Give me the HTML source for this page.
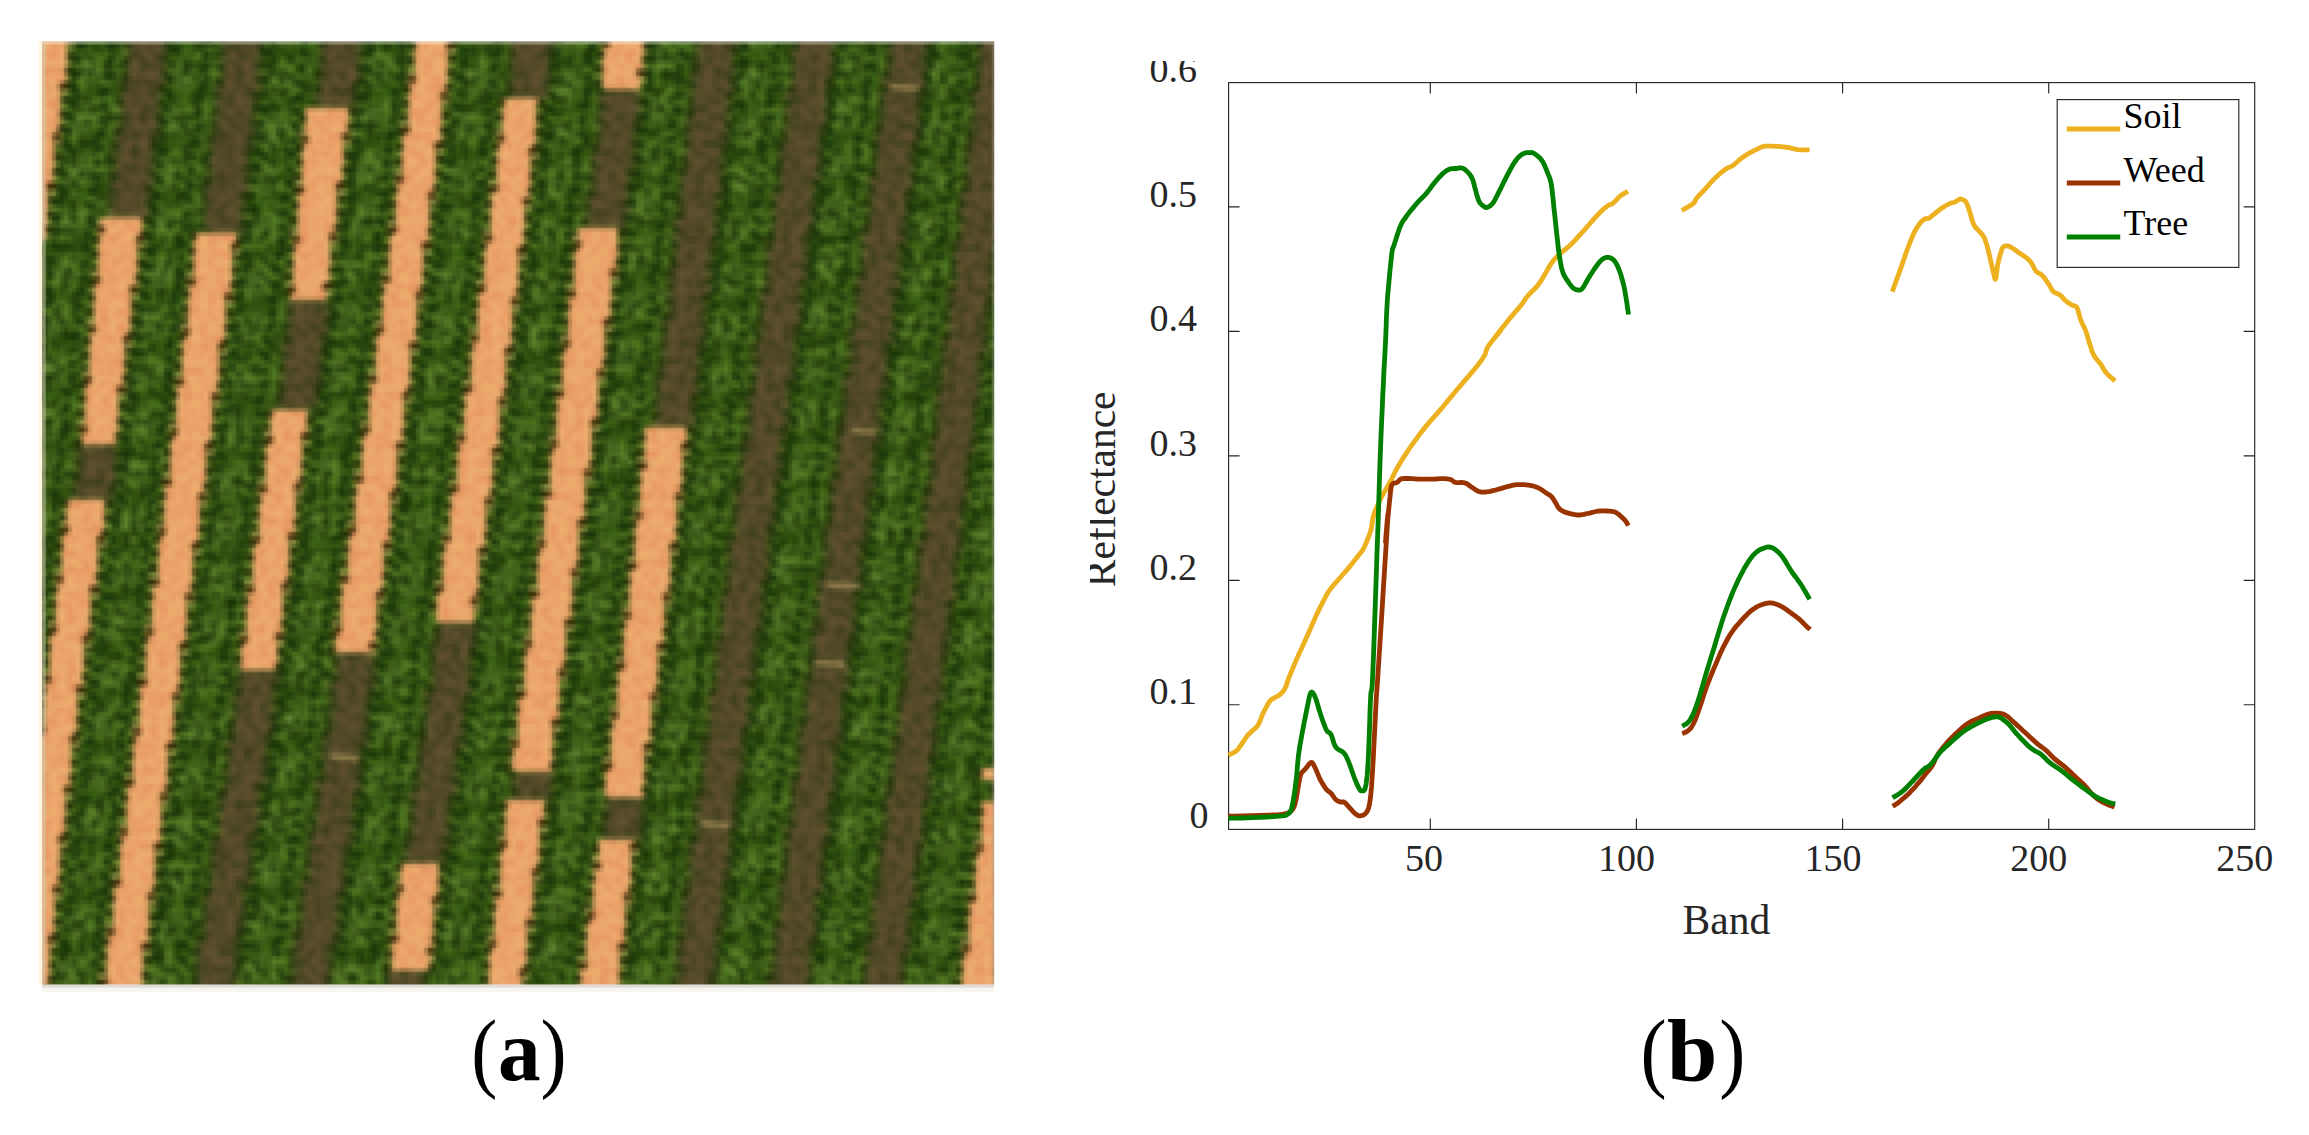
<!DOCTYPE html>
<html lang="en">
<head>
<meta charset="utf-8">
<title>Figure: field scene and reflectance spectra</title>
<style>
html,body{margin:0;padding:0;background:#fff;}
body{width:2309px;height:1135px;overflow:hidden;font-family:"Liberation Serif",serif;}
svg{display:block;}
</style>
</head>
<body>
<svg width="2309" height="1135" viewBox="0 0 2309 1135">
<rect width="2309" height="1135" fill="#fff"/>
<defs>
<clipPath id="fclip"><rect x="42.2" y="41.4" width="952.0" height="943.0"/></clipPath>
<filter id="fb0" filterUnits="userSpaceOnUse" x="20" y="20" width="1000" height="992" color-interpolation-filters="sRGB"><feFlood x="21" y="21" width="1" height="1" flood-color="#000"/><feComposite width="4" height="4" x="20" y="20"/><feTile result="t"/><feGaussianBlur in="SourceGraphic" stdDeviation="1.9" result="pb"/><feComposite in="pb" in2="t" operator="in" result="s"/><feOffset in="s" dx="1" result="s1"/><feOffset in="s" dx="2" result="s2"/><feOffset in="s" dx="-1" result="s3"/><feMerge result="h"><feMergeNode in="s"/><feMergeNode in="s1"/><feMergeNode in="s2"/><feMergeNode in="s3"/></feMerge><feOffset in="h" dy="1" result="h1"/><feOffset in="h" dy="2" result="h2"/><feOffset in="h" dy="-1" result="h3"/><feMerge><feMergeNode in="h"/><feMergeNode in="h1"/><feMergeNode in="h2"/><feMergeNode in="h3"/></feMerge><feConvolveMatrix order="3" kernelMatrix="1 3 1 3 8 3 1 3 1" divisor="24" edgeMode="duplicate"/></filter>
<filter id="fb2" x="-2%" y="-2%" width="104%" height="104%"><feGaussianBlur stdDeviation="3.6"/></filter>
<filter id="fb3" x="-2%" y="-2%" width="104%" height="104%"><feGaussianBlur stdDeviation="5"/></filter>
<filter id="fnd" color-interpolation-filters="sRGB" x="0" y="0" width="100%" height="100%"><feTurbulence type="fractalNoise" baseFrequency="0.115" numOctaves="1" seed="3"/><feColorMatrix type="matrix" values="0 0 0 0 0.10  0 0 0 0 0.19  0 0 0 0 0.02  2.3 0 0 0 -0.8"/></filter>
<filter id="fnl" color-interpolation-filters="sRGB" x="0" y="0" width="100%" height="100%"><feTurbulence type="fractalNoise" baseFrequency="0.14" numOctaves="1" seed="19"/><feColorMatrix type="matrix" values="0 0 0 0 0.46  0 0 0 0 0.57  0 0 0 0 0.24  0 3.0 0 0 -1.6"/></filter>
<filter id="fns" color-interpolation-filters="sRGB" x="0" y="0" width="100%" height="100%"><feTurbulence type="fractalNoise" baseFrequency="0.12" numOctaves="2" seed="5"/><feColorMatrix type="matrix" values="0 0 0 0 0.88  0 0 0 0 0.5  0 0 0 0 0.33  0 0 3.0 0 -1.15"/></filter>
<clipPath id="cs"><path d="M33.0 20.0L72.0 20.0H70.9V37.1H66.6V87.1H60.1V137.1H53.7V187.1H47.2V237.1H43.8V240.0L4.6 240.0H5.7V222.1H10.1V172.1H16.6V122.1H23.1V72.1H29.5V22.1H32.9V20.0ZM100.7 217.2L143.1 217.2H141.6V239.8H137.0V289.8H130.7V339.8H124.3V389.8H117.9V439.8H114.5V443.9L80.6 443.9H81.3V428.1H84.3V378.1H88.7V328.1H93.1V278.1H97.5V228.1H100.2V217.2ZM67.6 499.0L106.9 499.0H103.9V539.8H97.2V589.8H90.2V639.8H83.4V689.8H77.0V739.8H70.8V789.8H65.0V839.8H59.5V889.8H54.2V939.8H49.3V989.8H46.0V1010.0L8.4 1010.0H10.1V978.1H14.6V928.1H20.2V878.1H25.8V828.1H31.5V778.1H37.3V728.1H43.1V678.1H49.0V628.1H55.0V578.1H61.0V528.1H65.8V499.0ZM195.8 232.8L237.2 232.8H236.2V247.1H231.9V297.1H225.3V347.1H218.7V397.1H212.1V447.1H205.6V497.1H199.1V547.1H192.6V597.1H186.2V647.1H179.8V697.1H173.5V747.1H167.2V797.1H160.9V847.1H154.7V897.1H148.6V947.1H142.4V997.1H138.6V1010.0L98.7 1010.0H100.7V980.8H106.0V930.8H112.7V880.8H119.3V830.8H125.8V780.8H132.3V730.8H138.6V680.8H145.0V630.8H151.2V580.8H157.4V530.8H163.5V480.8H169.6V430.8H175.6V380.8H181.5V330.8H187.3V280.8H193.0V232.8ZM306.2 107.6L350.1 107.6H348.1V137.0H343.0V187.0H336.4V237.0H329.9V287.0H325.8V299.4L289.4 299.4H289.9V288.1H292.6V238.1H296.9V188.1H301.3V138.1H304.8V107.6ZM271.6 409.5L308.4 409.5H306.6V437.0H301.7V487.0H295.2V537.0H288.8V587.0H282.4V637.0H277.1V669.5L238.6 669.5H240.6V638.1H245.8V588.1H252.1V538.1H258.5V488.1H264.8V438.1H269.8V409.5ZM418.1 20.0L453.5 20.0H451.9V46.1H447.4V96.1H441.4V146.1H435.3V196.1H429.1V246.1H422.8V296.1H416.5V346.1H410.0V396.1H403.5V446.1H396.9V496.1H390.2V546.1H383.4V596.1H376.5V646.1H372.6V651.9L333.0 651.9H334.8V628.0H340.1V578.0H347.3V528.0H354.4V478.0H361.4V428.0H368.3V378.0H375.1V328.0H381.8V278.0H388.5V228.0H395.0V178.0H401.4V128.0H407.8V78.0H414.0V28.0H417.6V20.0ZM504.1 97.7L538.8 97.7H538.6V101.5H535.6V151.5H530.0V201.5H524.1V251.5H518.2V301.5H512.0V351.5H505.6V401.5H499.1V451.5H492.4V501.5H485.6V551.5H478.5V601.5H473.5V621.7L433.4 621.7H436.0V587.1H442.2V537.1H449.4V487.1H456.5V437.1H463.5V387.1H470.3V337.1H477.0V287.1H483.5V237.1H490.0V187.1H496.2V137.1H501.7V97.7ZM401.4 863.0L440.1 863.0H438.0V901.5H433.3V951.5H429.6V969.9L389.2 969.9H391.1V937.1H395.8V887.1H400.1V863.0ZM606.7 20.0L646.0 20.0H645.8V23.3H643.2V73.3H639.9V89.0L599.8 89.0H602.1V42.5H605.6V20.0ZM577.9 227.6L620.0 227.6H617.0V273.3H610.9V323.3H604.4V373.3H597.9V423.3H591.4V473.3H584.9V523.3H578.4V573.3H571.9V623.3H565.4V673.3H558.9V723.3H552.5V771.2L509.7 771.2H511.6V742.5H517.1V692.5H523.8V642.5H530.4V592.5H536.9V542.5H543.3V492.5H549.6V442.5H555.7V392.5H561.7V342.5H567.6V292.5H573.4V242.5H577.0V227.6ZM506.9 799.4L545.3 799.4H543.8V823.3H539.1V873.3H532.9V923.3H526.6V973.3H521.1V1010.0L483.6 1010.0H484.5V992.5H488.3V942.5H493.8V892.5H499.4V842.5H504.5V799.4ZM645.5 426.8L687.2 426.8H686.0V447.2H682.1V497.2H676.3V547.2H670.2V597.2H664.0V647.2H657.6V697.2H650.9V747.2H644.1V797.1L602.5 797.1H604.7V764.3H610.3V714.3H616.7V664.3H622.9V614.3H628.7V564.3H634.2V514.3H639.4V464.3H643.8V426.8ZM599.5 839.3L634.6 839.3H634.1V847.2H630.8V897.2H625.0V947.2H619.2V997.2H615.6V1010.0L575.8 1010.0H579.0V964.3H585.6V914.3H592.5V864.3H597.7V839.3ZM981.5 768.0L1020.5 768.0H1020.3V773.5H1019.8V779.0L980.5 779.0H981.0V768.0ZM983.9 801.6L1022.9 801.6H1021.4V823.5H1016.6V873.5H1010.0V923.5H1003.3V973.5H997.6V1010.0L956.6 1010.0H957.5V996.7H961.6V946.7H968.2V896.7H974.7V846.7H980.9V801.6Z"/></clipPath>
<path id="wd" d="M131.7 20.0L169.7 20.0H168.5V39.8H164.3V89.8H158.1V139.8H152.0V189.8H147.3V217.2L107.6 217.2H110.0V178.1H115.4V128.1H121.6V78.1H127.7V28.1H131.2V20.0ZM79.8 443.9L117.8 443.9H115.0V489.8H111.6V499.0L73.1 499.0H74.3V478.1H77.7V443.9ZM226.4 20.0L264.4 20.0H262.8V47.1H258.3V97.1H252.5V147.1H246.6V197.1H241.6V232.8L201.4 232.8H201.6V230.8H204.7V180.8H210.6V130.8H216.4V80.8H222.2V30.8H225.7V20.0ZM325.9 20.0L363.9 20.0H362.9V37.0H358.8V87.0H354.6V107.6L315.3 107.6H316.5V88.1H320.7V38.1H324.8V20.0ZM291.2 299.4L329.2 299.4H326.8V337.0H321.0V387.0H316.2V409.5L276.7 409.5H278.1V388.1H282.9V338.1H288.7V299.4ZM240.7 669.5L278.7 669.5H277.4V687.0H272.5V737.0H265.2V787.0H257.8V837.0H250.3V887.0H242.7V937.0H235.1V987.0H229.4V1010.0L189.6 1010.0H191.3V988.1H196.9V938.1H204.6V888.1H212.2V838.1H219.7V788.1H227.1V738.1H234.4V688.1H239.3V669.5ZM338.2 651.9L376.2 651.9H373.0V696.1H366.3V746.1H359.1V796.1H351.8V846.1H344.4V896.1H337.0V946.1H329.5V996.1H324.7V1010.0L285.6 1010.0H288.0V978.0H294.2V928.0H301.7V878.0H309.1V828.0H316.4V778.0H323.7V728.0H330.9V678.0H336.3V651.9ZM516.3 20.0L554.3 20.0H552.4V51.5H547.7V97.7L506.9 97.7H507.6V87.1H511.3V37.1H515.3V20.0ZM438.6 621.7L476.6 621.7H474.5V651.5H468.9V701.5H461.8V751.5H454.7V801.5H447.5V851.5H443.0V863.0L404.1 863.0H406.0V837.1H411.5V787.1H418.8V737.1H425.9V687.1H432.9V637.1H437.5V621.7ZM388.3 969.9L426.3 969.9H423.9V1001.5H420.9V1010.0L382.2 1010.0H384.0V987.1H387.0V969.9ZM603.3 89.0L641.3 89.0H639.1V123.3H633.5V173.3H626.9V223.3H623.3V227.6L585.0 227.6H587.3V192.5H592.9V142.5H599.6V92.5H603.1V89.0ZM514.9 771.2L552.9 771.2H552.7V773.3H550.9V799.4L511.3 799.4H511.7V792.5H513.5V771.2ZM700.1 20.0L738.1 20.0H736.6V47.2H732.3V97.2H726.6V147.2H720.9V197.2H715.2V247.2H709.4V297.2H703.5V347.2H697.6V397.2H692.8V426.8L653.0 426.8H653.8V414.3H657.5V364.3H663.5V314.3H669.4V264.3H675.2V214.3H681.0V164.3H686.7V114.3H692.3V64.3H697.6V20.0ZM606.9 797.1L644.9 797.1H642.2V839.3L601.4 839.3H603.1V814.3H605.8V797.1ZM798.7 20.0L836.7 20.0H835.9V32.4H831.9V82.4H825.4V132.4H819.0V182.4H812.6V232.4H806.2V282.4H799.7V332.4H793.3V382.4H786.9V432.4H780.4V482.4H773.9V532.4H767.5V582.4H761.0V632.4H754.5V682.4H748.1V732.4H741.6V782.4H735.1V832.4H728.6V882.4H722.1V932.4H715.6V982.4H710.6V1010.0L670.8 1010.0H672.2V988.2H676.9V938.2H683.4V888.2H689.9V838.2H696.4V788.2H702.8V738.2H709.3V688.2H715.8V638.2H722.3V588.2H728.7V538.2H735.2V488.2H741.7V438.2H748.1V388.2H754.6V338.2H761.0V288.2H767.4V238.2H773.9V188.2H780.3V138.2H786.7V88.2H793.1V38.2H797.5V20.0ZM892.7 20.0L930.7 20.0H929.1V45.0H924.2V95.0H917.8V145.0H911.3V195.0H904.9V245.0H898.4V295.0H892.0V345.0H885.6V395.0H879.2V445.0H872.7V495.0H866.3V545.0H859.9V595.0H853.5V645.0H847.1V695.0H840.7V745.0H834.4V795.0H828.0V845.0H821.6V895.0H815.2V945.0H808.9V995.0H804.7V1010.0L765.8 1010.0H768.1V973.4H773.6V923.4H780.0V873.4H786.3V823.4H792.7V773.4H799.1V723.4H805.5V673.4H811.9V623.4H818.3V573.4H824.7V523.4H831.1V473.4H837.5V423.4H843.9V373.4H850.4V323.4H856.8V273.4H863.2V223.4H869.7V173.4H876.1V123.4H882.5V73.4H889.0V23.4H892.4V20.0ZM983.1 20.0L1021.1 20.0H1019.1V55.7H1014.2V105.7H1008.4V155.7H1002.6V205.7H996.7V255.7H990.8V305.7H984.8V355.7H978.7V405.7H972.6V455.7H966.4V505.7H960.2V555.7H953.9V605.7H947.6V655.7H941.2V705.7H934.7V755.7H928.2V805.7H921.6V855.7H915.0V905.7H908.3V955.7H901.5V1005.7H897.8V1010.0L859.5 1010.0H861.2V986.0H866.2V936.0H872.9V886.0H879.6V836.0H886.2V786.0H892.7V736.0H899.2V686.0H905.7V636.0H912.1V586.0H918.4V536.0H924.6V486.0H930.9V436.0H937.0V386.0H943.1V336.0H949.1V286.0H955.1V236.0H961.0V186.0H966.9V136.0H972.7V86.0H978.4V36.0H982.2V20.0ZM1018.4 600.0L1056.4 600.0H1054.9V623.5H1050.0V673.5H1043.4V723.5H1037.2V768.0L996.2 768.0H997.6V746.7H1002.4V696.7H1009.0V646.7H1015.3V600.0ZM994.8 779.0L1032.8 779.0H1031.3V801.6L991.8 801.6H992.1V796.7H993.6V779.0Z"/>
</defs>
<rect x="42.2" y="984.4" width="952.0" height="3.4" fill="#D6D0CB" opacity="0.75"/>
<rect x="42.2" y="987.8" width="952.0" height="4.6" fill="#F5F2EC" opacity="0.8"/>
<rect x="38.6" y="41.4" width="3.6" height="943.0" fill="#FFF2D4" opacity="0.7"/>
<g clip-path="url(#fclip)"><g filter="url(#fb0)">
<rect x="20" y="20" width="1000" height="990" fill="#507920"/>
<g filter="url(#fb3)"><path d="M-1.1 13.6h0M-7.5 63.6h0M-14.0 113.6h0M-20.4 163.6h0M-26.9 213.6h0M-33.3 263.6h0M-39.8 313.6h0M-46.2 363.6h0M-52.7 413.6h0M-59.1 463.6h0M-65.6 513.6h0M-72.0 563.6h0M-78.5 613.6h0M-84.9 663.6h0M-91.4 713.6h0M-97.8 763.6h0M-104.3 813.6h0M-110.7 863.6h0M-117.2 913.6h0M-123.6 963.6h0M-130.1 1013.6h0M92.6 19.6h0M86.3 69.6h0M80.0 119.6h0M73.7 169.6h0M67.4 219.6h0M61.2 269.6h0M54.9 319.6h0M48.6 369.6h0M42.3 419.6h0M36.0 469.6h0M29.7 519.6h0M23.4 569.6h0M17.1 619.6h0M10.9 669.6h0M4.6 719.6h0M-1.7 769.6h0M-8.0 819.6h0M-14.3 869.6h0M-20.6 919.6h0M-26.9 969.6h0M-33.2 1019.6h0M186.8 22.3h0M180.8 72.3h0M174.8 122.3h0M168.9 172.3h0M162.8 222.3h0M156.8 272.3h0M150.7 322.3h0M144.6 372.3h0M138.5 422.3h0M132.4 472.3h0M126.3 522.3h0M120.1 572.3h0M113.9 622.3h0M107.7 672.3h0M101.5 722.3h0M95.2 772.3h0M88.9 822.3h0M82.6 872.3h0M76.3 922.3h0M70.0 972.3h0M63.6 1022.3h0M283.0 29.6h0M277.1 79.6h0M271.1 129.6h0M265.1 179.6h0M259.0 229.6h0M252.8 279.6h0M246.6 329.6h0M240.2 379.6h0M233.9 429.6h0M227.4 479.6h0M220.9 529.6h0M214.3 579.6h0M207.7 629.6h0M200.9 679.6h0M194.1 729.6h0M187.3 779.6h0M180.3 829.6h0M173.3 879.6h0M166.3 929.6h0M159.1 979.6h0M151.9 1029.6h0M382.2 19.5h0M376.1 69.5h0M369.9 119.5h0M363.6 169.5h0M357.2 219.5h0M350.7 269.5h0M344.2 319.5h0M337.6 369.5h0M330.9 419.5h0M324.1 469.5h0M317.3 519.5h0M310.3 569.5h0M303.3 619.5h0M296.2 669.5h0M289.0 719.5h0M281.7 769.5h0M274.4 819.5h0M266.9 869.5h0M259.4 919.5h0M251.8 969.5h0M244.1 1019.5h0M476.3 28.6h0M470.1 78.6h0M463.9 128.6h0M457.6 178.6h0M451.2 228.6h0M444.8 278.6h0M438.3 328.6h0M431.7 378.6h0M425.0 428.6h0M418.2 478.6h0M411.4 528.6h0M404.5 578.6h0M397.5 628.6h0M390.5 678.6h0M383.4 728.6h0M376.2 778.6h0M368.9 828.6h0M361.6 878.6h0M354.2 928.6h0M346.7 978.6h0M339.1 1028.6h0M577.0 -16.0h0M570.7 34.0h0M564.3 84.0h0M557.9 134.0h0M551.5 184.0h0M545.1 234.0h0M538.6 284.0h0M532.1 334.0h0M525.6 384.0h0M519.1 434.0h0M512.5 484.0h0M505.9 534.0h0M499.2 584.0h0M492.6 634.0h0M485.9 684.0h0M479.2 734.0h0M472.4 784.0h0M465.7 834.0h0M458.9 884.0h0M452.0 934.0h0M445.2 984.0h0M666.1 5.8h0M659.9 55.8h0M653.8 105.8h0M647.6 155.8h0M641.5 205.8h0M635.3 255.8h0M629.1 305.8h0M622.9 355.8h0M616.6 405.8h0M610.4 455.8h0M604.1 505.8h0M597.8 555.8h0M591.5 605.8h0M585.2 655.8h0M578.9 705.8h0M572.5 755.8h0M566.1 805.8h0M559.7 855.8h0M553.3 905.8h0M546.9 955.8h0M540.5 1005.8h0M756.2 29.7h0M750.2 79.7h0M744.2 129.7h0M738.1 179.7h0M732.0 229.7h0M725.9 279.7h0M719.7 329.7h0M713.6 379.7h0M707.3 429.7h0M701.1 479.7h0M694.8 529.7h0M688.5 579.7h0M682.1 629.7h0M675.8 679.7h0M669.4 729.7h0M662.9 779.7h0M656.5 829.7h0M650.0 879.7h0M643.4 929.7h0M636.9 979.7h0M630.3 1029.7h0M854.3 14.9h0M847.9 64.9h0M841.4 114.9h0M835.0 164.9h0M828.6 214.9h0M822.1 264.9h0M815.7 314.9h0M809.3 364.9h0M802.8 414.9h0M796.4 464.9h0M790.0 514.9h0M783.5 564.9h0M777.1 614.9h0M770.7 664.9h0M764.2 714.9h0M757.8 764.9h0M751.4 814.9h0M744.9 864.9h0M738.5 914.9h0M732.1 964.9h0M725.6 1014.9h0M945.0 27.5h0M938.9 77.5h0M932.8 127.5h0M926.6 177.5h0M920.5 227.5h0M914.3 277.5h0M908.1 327.5h0M901.9 377.5h0M895.6 427.5h0M889.3 477.5h0M883.0 527.5h0M876.6 577.5h0M870.3 627.5h0M863.9 677.5h0M857.4 727.5h0M851.0 777.5h0M844.5 827.5h0M838.0 877.5h0M831.5 927.5h0M824.9 977.5h0M818.3 1027.5h0M1050.9 -11.8h0M1044.8 38.2h0M1038.6 88.2h0M1032.5 138.2h0M1026.2 188.2h0M1020.0 238.2h0M1013.7 288.2h0M1007.4 338.2h0M1001.1 388.2h0M994.7 438.2h0M988.3 488.2h0M981.9 538.2h0M975.5 588.2h0M969.0 638.2h0M962.5 688.2h0M956.0 738.2h0M949.4 788.2h0M942.8 838.2h0M936.2 888.2h0M929.5 938.2h0M922.8 988.2h0" stroke="#668C30" stroke-width="24" opacity="0.6" stroke-linecap="round" fill="none"/><path d="M-20.4 -8.9L37.2 -17.9M-26.9 41.1L30.8 32.1M-33.3 91.1L24.3 82.1M-39.8 141.1L17.9 132.1M-46.2 191.1L11.4 182.1M-52.7 241.1L5.0 232.1M-59.1 291.1L-1.5 282.1M-65.6 341.1L-7.9 332.1M-72.0 391.1L-14.4 382.1M-78.5 441.1L-20.8 432.1M-84.9 491.1L-27.3 482.1M-91.4 541.1L-33.7 532.1M-97.8 591.1L-40.2 582.1M-104.3 641.1L-46.6 632.1M-110.7 691.1L-53.1 682.1M-117.2 741.1L-59.5 732.1M-123.6 791.1L-66.0 782.1M-130.1 841.1L-72.4 832.1M-136.5 891.1L-78.9 882.1M-143.0 941.1L-85.3 932.1M-149.4 991.1L-91.8 982.1M73.3 -2.9L130.7 -11.9M66.8 47.1L124.5 38.1M60.4 97.1L118.4 88.1M53.9 147.1L112.3 138.1M47.5 197.1L106.1 188.1M41.0 247.1L100.0 238.1M34.6 297.1L93.9 288.1M28.1 347.1L87.8 338.1M21.7 397.1L81.6 388.1M15.2 447.1L75.5 438.1M8.8 497.1L69.4 488.1M2.3 547.1L63.3 538.1M-4.1 597.1L57.1 588.1M-10.6 647.1L51.0 638.1M-17.0 697.1L44.9 688.1M-23.5 747.1L38.8 738.1M-29.9 797.1L32.7 788.1M-36.4 847.1L26.5 838.1M-42.8 897.1L20.4 888.1M-49.3 947.1L14.3 938.1M-55.7 997.1L8.2 988.1M167.2 -0.2L224.7 -9.2M161.1 49.8L219.0 40.8M155.0 99.8L213.2 90.8M148.8 149.8L207.3 140.8M142.7 199.8L201.4 190.8M136.6 249.8L195.5 240.8M130.5 299.8L189.5 290.8M124.3 349.8L183.5 340.8M118.2 399.8L177.5 390.8M112.1 449.8L171.4 440.8M106.0 499.8L165.2 490.8M99.8 549.8L159.0 540.8M93.7 599.8L152.8 590.8M87.6 649.8L146.5 640.8M81.5 699.8L140.2 690.8M75.3 749.8L133.9 740.8M69.2 799.8L127.5 790.8M63.1 849.8L121.0 840.8M57.0 899.8L114.5 890.8M50.9 949.8L108.0 940.8M44.7 999.8L101.5 990.8M260.8 7.1L323.5 -1.9M255.1 57.1L317.5 48.1M249.3 107.1L311.5 98.1M243.4 157.1L305.3 148.1M237.5 207.1L299.1 198.1M231.5 257.1L292.8 248.1M225.6 307.1L286.4 298.1M219.5 357.1L279.8 348.1M213.5 407.1L273.2 398.1M207.4 457.1L266.5 448.1M201.2 507.1L259.7 498.1M195.0 557.1L252.8 548.1M188.8 607.1L245.8 598.1M182.5 657.1L238.7 648.1M176.1 707.1L231.5 698.1M169.8 757.1L224.3 748.1M163.4 807.1L216.9 798.1M156.9 857.1L209.4 848.1M150.4 907.1L201.9 898.1M143.9 957.1L194.2 948.1M137.3 1007.1L186.4 998.1M361.6 -3.0L421.4 -12.0M355.6 47.0L415.1 38.0M349.6 97.0L408.9 88.0M343.5 147.0L402.5 138.0M337.2 197.0L396.1 188.0M330.9 247.0L389.6 238.0M324.5 297.0L383.0 288.0M318.0 347.0L376.4 338.0M311.4 397.0L369.7 388.0M304.7 447.0L362.9 438.0M297.9 497.0L356.1 488.0M291.0 547.0L349.2 538.0M284.0 597.0L342.2 588.0M276.9 647.0L335.2 638.0M269.7 697.0L328.0 688.0M262.4 747.0L320.9 738.0M255.1 797.0L313.6 788.0M247.6 847.0L306.3 838.0M240.0 897.0L298.9 888.0M232.4 947.0L291.5 938.0M224.6 997.0L283.9 988.0M457.1 6.1L514.0 -2.9M450.9 56.1L508.1 47.1M444.6 106.1L502.0 97.1M438.2 156.1L495.9 147.1M431.7 206.1L489.6 197.1M425.2 256.1L483.3 247.1M418.6 306.1L476.9 297.1M412.0 356.1L470.5 347.1M405.2 406.1L463.9 397.1M398.4 456.1L457.3 447.1M391.6 506.1L450.6 497.1M384.6 556.1L443.8 547.1M377.6 606.1L437.0 597.1M370.6 656.1L430.0 647.1M363.4 706.1L423.0 697.1M356.2 756.1L415.9 747.1M349.0 806.1L408.7 797.1M341.6 856.1L401.5 847.1M334.2 906.1L394.1 897.1M326.7 956.1L386.7 947.1M319.2 1006.1L379.2 997.1M556.3 -38.5L616.6 -47.5M550.3 11.5L609.9 2.5M544.3 61.5L603.2 52.5M538.2 111.5L596.6 102.5M532.1 161.5L589.9 152.5M525.8 211.5L583.3 202.5M519.5 261.5L576.7 252.5M513.1 311.5L570.2 302.5M506.6 361.5L563.6 352.5M500.1 411.5L557.1 402.5M493.4 461.5L550.6 452.5M486.7 511.5L544.2 502.5M479.9 561.5L537.7 552.5M473.0 611.5L531.3 602.5M466.0 661.5L524.9 652.5M459.0 711.5L518.6 702.5M451.9 761.5L512.2 752.5M444.6 811.5L505.9 802.5M437.4 861.5L499.6 852.5M430.0 911.5L493.3 902.5M422.5 961.5L487.1 952.5M650.5 -16.7L700.1 -25.7M643.8 33.3L694.6 24.3M637.1 83.3L689.0 74.3M630.5 133.3L683.4 124.3M623.9 183.3L677.7 174.3M617.3 233.3L671.9 224.3M610.7 283.3L666.1 274.3M604.1 333.3L660.3 324.3M597.6 383.3L654.3 374.3M591.1 433.3L648.3 424.3M584.7 483.3L642.3 474.3M578.2 533.3L636.2 524.3M571.8 583.3L630.0 574.3M565.4 633.3L623.8 624.3M559.0 683.3L617.6 674.3M552.7 733.3L611.2 724.3M546.3 783.3L604.8 774.3M540.0 833.3L598.4 824.3M533.7 883.3L591.9 874.3M527.5 933.3L585.3 924.3M521.3 983.3L578.7 974.3M734.5 7.2L796.5 -1.8M728.9 57.2L790.0 48.2M723.3 107.2L783.6 98.2M717.6 157.2L777.2 148.2M711.9 207.2L770.8 198.2M706.1 257.2L764.4 248.2M700.3 307.2L757.9 298.2M694.4 357.2L751.5 348.2M688.4 407.2L745.0 398.2M682.4 457.2L738.6 448.2M676.3 507.2L732.1 498.2M670.2 557.2L725.7 548.2M664.0 607.2L719.2 598.2M657.7 657.2L712.7 648.2M651.4 707.2L706.3 698.2M645.0 757.2L699.8 748.2M638.6 807.2L693.3 798.2M632.1 857.2L686.8 848.2M625.6 907.2L680.3 898.2M619.0 957.2L673.8 948.2M612.3 1007.2L667.3 998.2M835.2 -7.6L892.4 -16.6M828.8 42.4L885.9 33.4M822.4 92.4L879.5 83.4M815.9 142.4L873.0 133.4M809.5 192.4L866.6 183.4M803.1 242.4L860.1 233.4M796.7 292.4L853.7 283.4M790.2 342.4L847.3 333.4M783.8 392.4L840.9 383.4M777.3 442.4L834.4 433.4M770.9 492.4L828.0 483.4M764.4 542.4L821.6 533.4M758.0 592.4L815.2 583.4M751.5 642.4L808.8 633.4M745.0 692.4L802.4 683.4M738.5 742.4L796.0 733.4M732.0 792.4L789.6 783.4M725.6 842.4L783.3 833.4M719.1 892.4L776.9 883.4M712.6 942.4L770.5 933.4M706.0 992.4L764.2 983.4M927.6 5.0L980.8 -4.0M921.1 55.0L975.1 46.0M914.7 105.0L969.4 96.0M908.2 155.0L963.6 146.0M901.8 205.0L957.8 196.0M895.4 255.0L951.9 246.0M888.9 305.0L945.9 296.0M882.5 355.0L939.9 346.0M876.1 405.0L933.8 396.0M869.7 455.0L927.7 446.0M863.3 505.0L921.5 496.0M856.8 555.0L915.3 546.0M850.4 605.0L909.0 596.0M844.0 655.0L902.6 646.0M837.7 705.0L896.2 696.0M831.3 755.0L889.7 746.0M824.9 805.0L883.2 796.0M818.5 855.0L876.6 846.0M812.1 905.0L869.9 896.0M805.8 955.0L863.2 946.0M799.4 1005.0L856.4 996.0M1022.2 -34.3L1098.3 -43.3M1016.6 15.7L1091.7 6.7M1010.9 65.7L1085.1 56.7M1005.1 115.7L1078.5 106.7M999.3 165.7L1071.9 156.7M993.5 215.7L1065.3 206.7M987.5 265.7L1058.7 256.7M981.6 315.7L1052.1 306.7M975.5 365.7L1045.5 356.7M969.4 415.7L1038.9 406.7M963.3 465.7L1032.3 456.7M957.1 515.7L1025.7 506.7M950.8 565.7L1019.1 556.7M944.5 615.7L1012.5 606.7M938.1 665.7L1005.9 656.7M931.6 715.7L999.3 706.7M925.1 765.7L992.7 756.7M918.6 815.7L986.1 806.7M912.0 865.7L979.5 856.7M905.3 915.7L972.9 906.7M898.6 965.7L966.3 956.7" stroke="#1E4309" stroke-width="9" opacity="0.65" stroke-linecap="round" fill="none"/></g>
<rect x="42.2" y="41.4" width="952.0" height="943.0" filter="url(#fnl)"/>
<path d="M-5.5 -6.2h0M21.6 -15.8h0M3.6 18.7h0M-15.4 14.7h0M25.1 17.5h0M-11.4 39.2h0M15.6 33.0h0M-3.6 69.1h0M-19.4 59.4h0M18.9 68.8h0M-15.8 89.6h0M7.7 87.1h0M-10.0 115.7h0M-30.3 114.6h0M14.2 118.6h0M-21.6 138.9h0M1.8 137.8h0M-16.6 167.9h0M-35.9 161.8h0M5.3 170.7h0M-27.3 190.9h0M-3.2 187.3h0M-21.2 215.9h0M-41.3 213.5h0M-0.3 217.4h0M-36.0 239.0h0M-9.8 238.1h0M-27.8 266.9h0M-49.0 261.2h0M-5.2 267.3h0M-43.0 293.3h0M-16.8 286.9h0M-33.6 317.3h0M-54.7 313.7h0M-14.0 319.9h0M-47.5 341.1h0M-25.1 336.3h0M-40.3 368.8h0M-62.4 362.6h0M-20.5 368.9h0M-55.4 392.2h0M-30.2 387.0h0M-47.9 417.9h0M-66.0 413.0h0M-26.7 420.6h0M-60.3 443.2h0M-35.3 436.3h0M-53.7 468.9h0M-74.6 462.3h0M-30.8 470.7h0M-67.2 491.0h0M-42.7 486.5h0M-58.5 514.2h0M-79.1 512.6h0M-38.2 518.2h0M-74.1 542.8h0M-52.0 536.5h0M-66.3 564.1h0M-87.4 563.0h0M-44.8 569.8h0M-80.6 588.4h0M-58.0 583.5h0M-73.3 613.9h0M-93.6 610.2h0M-51.4 615.9h0M-86.8 640.4h0M-64.0 635.7h0M-81.6 668.6h0M-99.9 661.6h0M-59.6 668.1h0M-94.6 693.1h0M-68.5 682.4h0M-85.2 713.7h0M-105.1 711.2h0M-63.6 721.4h0M-98.9 740.7h0M-76.4 736.0h0M-91.5 764.0h0M-110.2 762.5h0M-70.9 771.5h0M-105.0 790.3h0M-83.4 782.2h0M-98.2 816.5h0M-117.6 810.0h0M-78.3 821.0h0M-114.2 840.7h0M-86.6 833.9h0M-103.1 865.4h0M-124.8 864.6h0M-81.8 867.2h0M-119.9 891.1h0M-93.0 884.1h0M-112.4 916.1h0M-132.8 912.0h0M-90.7 919.4h0M-124.8 939.9h0M-103.7 937.1h0M-118.9 966.3h0M-137.0 964.8h0M-97.5 967.1h0M-130.3 989.1h0M-107.4 983.9h0M-123.8 1016.0h0M-143.3 1012.8h0M-101.9 1016.4h0M90.5 -4.1h0M113.9 -9.9h0M98.1 22.3h0M79.6 17.3h0M117.5 25.1h0M83.8 45.6h0M109.6 43.6h0M90.0 72.4h0M71.6 69.8h0M114.0 75.0h0M77.3 97.9h0M101.3 93.6h0M87.2 121.4h0M65.1 116.3h0M105.1 126.6h0M71.6 149.1h0M95.1 140.7h0M80.8 173.8h0M59.5 165.9h0M100.9 174.9h0M63.5 196.1h0M90.9 191.6h0M72.4 219.5h0M53.8 220.0h0M92.7 225.6h0M60.2 248.4h0M83.9 244.1h0M68.5 269.4h0M47.3 266.4h0M89.1 277.3h0M51.5 294.9h0M75.5 293.6h0M60.1 322.8h0M40.8 316.1h0M81.2 321.9h0M44.1 346.4h0M71.7 338.4h0M55.6 373.5h0M33.7 365.9h0M76.8 373.5h0M41.1 397.0h0M63.1 390.3h0M46.4 423.3h0M27.2 418.9h0M70.0 427.1h0M32.0 447.8h0M57.6 441.4h0M41.6 473.6h0M20.1 465.9h0M65.0 473.8h0M27.7 495.2h0M50.6 492.0h0M33.6 523.1h0M15.1 515.8h0M59.5 523.0h0M19.6 547.0h0M44.1 542.9h0M27.2 573.4h0M10.1 566.0h0M50.4 575.7h0M16.1 594.8h0M41.1 592.1h0M23.6 619.9h0M0.7 617.2h0M46.0 623.6h0M7.2 646.2h0M35.3 638.9h0M17.6 673.0h0M-3.3 667.7h0M39.6 674.7h0M2.1 697.5h0M26.0 690.5h0M9.4 719.3h0M-9.3 715.3h0M34.2 724.5h0M-4.9 744.1h0M21.5 743.4h0M3.9 771.7h0M-18.7 765.7h0M26.7 772.5h0M-9.9 796.4h0M14.4 789.0h0M-3.5 820.8h0M-24.9 816.8h0M18.9 824.5h0M-18.7 849.6h0M9.3 843.7h0M-8.9 873.1h0M-32.3 870.8h0M13.7 875.6h0M-23.4 898.1h0M1.7 889.1h0M-15.6 919.2h0M-36.9 915.6h0M7.6 927.4h0M-30.5 946.0h0M-2.5 939.8h0M-22.7 973.4h0M-42.3 966.5h0M2.6 977.2h0M-34.9 996.7h0M-11.2 988.1h0M-28.0 1023.8h0M-49.1 1015.4h0M-4.1 1027.5h0M182.6 -1.1h0M210.5 -8.8h0M194.2 24.7h0M171.9 18.1h0M213.6 24.6h0M177.5 47.1h0M202.0 43.2h0M185.0 72.1h0M164.9 73.6h0M207.5 77.3h0M170.4 99.9h0M195.4 92.6h0M182.2 125.0h0M161.8 121.3h0M200.3 125.5h0M166.0 150.0h0M190.4 144.2h0M175.4 175.5h0M153.3 173.2h0M197.5 177.0h0M158.7 198.1h0M183.4 192.6h0M169.6 226.4h0M146.9 219.6h0M189.5 224.8h0M154.0 247.3h0M177.9 244.2h0M163.6 272.1h0M141.3 268.0h0M183.8 276.0h0M147.8 297.4h0M174.1 292.6h0M158.0 325.1h0M136.9 321.7h0M177.9 327.7h0M142.2 351.7h0M167.5 346.5h0M149.3 376.0h0M129.2 372.6h0M170.7 375.0h0M135.0 397.8h0M159.8 394.8h0M145.6 422.1h0M121.9 421.1h0M164.9 424.6h0M131.1 448.9h0M154.8 446.5h0M138.0 473.1h0M117.1 469.9h0M160.6 474.3h0M124.1 501.7h0M149.0 491.3h0M133.0 522.8h0M113.3 520.4h0M152.0 529.0h0M119.1 548.7h0M142.2 543.5h0M126.9 574.4h0M105.2 573.4h0M147.6 580.1h0M112.7 597.4h0M134.5 593.3h0M117.4 627.6h0M99.1 621.2h0M140.6 629.6h0M104.3 648.1h0M130.4 642.0h0M114.5 673.9h0M92.7 669.2h0M137.1 675.7h0M99.9 701.8h0M123.2 694.5h0M108.8 722.6h0M85.1 720.7h0M127.3 725.3h0M94.0 751.1h0M118.8 742.0h0M101.8 773.7h0M81.0 772.9h0M121.6 779.1h0M86.8 796.8h0M109.8 794.3h0M94.0 824.1h0M74.2 817.9h0M115.9 826.6h0M79.6 851.0h0M105.6 846.7h0M88.8 877.3h0M68.5 871.8h0M108.7 879.1h0M74.5 900.3h0M97.5 893.9h0M80.7 922.2h0M62.7 919.9h0M103.7 928.8h0M69.5 948.6h0M93.0 942.4h0M77.0 972.2h0M57.8 971.8h0M97.0 979.6h0M62.1 1001.8h0M84.2 994.4h0M70.9 1024.9h0M52.0 1019.2h0M89.5 1027.5h0M279.2 4.1h0M306.7 -0.8h0M290.1 34.5h0M266.5 28.8h0M312.8 32.3h0M274.3 57.4h0M301.6 50.4h0M282.2 80.4h0M261.9 76.7h0M304.1 87.0h0M268.6 107.9h0M292.4 99.5h0M278.1 132.5h0M256.0 130.4h0M299.4 134.1h0M263.2 157.3h0M287.2 149.9h0M272.6 182.8h0M247.8 176.2h0M294.1 182.3h0M254.3 207.7h0M282.4 199.3h0M265.3 233.0h0M241.5 229.5h0M288.6 234.5h0M248.5 259.9h0M275.9 253.2h0M257.1 284.7h0M238.6 279.3h0M279.3 284.5h0M242.3 305.3h0M268.2 298.7h0M250.6 332.8h0M232.1 329.7h0M275.5 336.5h0M238.8 358.4h0M263.0 353.9h0M244.0 384.9h0M223.8 375.7h0M267.7 382.9h0M231.8 406.9h0M254.6 402.6h0M239.8 431.5h0M217.6 427.4h0M260.8 435.2h0M224.6 458.2h0M251.3 453.9h0M234.5 479.6h0M211.9 479.5h0M254.9 482.3h0M219.4 506.2h0M242.4 503.6h0M226.7 530.9h0M207.6 529.3h0M247.0 535.1h0M213.5 556.1h0M234.7 551.2h0M219.0 581.6h0M198.4 579.1h0M239.6 583.2h0M207.5 607.0h0M229.3 601.4h0M211.3 634.7h0M195.2 627.3h0M235.5 631.7h0M197.1 656.3h0M222.9 649.6h0M206.7 681.4h0M186.7 675.4h0M226.3 687.5h0M190.7 707.0h0M217.9 699.8h0M199.7 733.2h0M180.9 725.4h0M219.3 736.3h0M187.3 757.7h0M209.3 752.0h0M191.4 779.3h0M173.9 779.7h0M213.6 786.9h0M178.2 809.6h0M202.4 804.1h0M184.3 834.5h0M167.4 829.8h0M206.8 837.5h0M172.2 855.4h0M194.7 849.7h0M179.8 880.8h0M160.3 875.9h0M196.2 884.4h0M167.1 906.4h0M185.8 903.4h0M173.6 929.2h0M154.6 930.9h0M189.6 932.4h0M160.0 959.6h0M179.1 948.3h0M163.9 981.7h0M147.2 979.6h0M181.1 986.3h0M153.5 1007.2h0M170.7 1002.3h0M158.5 1029.8h0M140.7 1027.4h0M175.4 1034.5h0M377.8 -0.2h0M403.6 -8.6h0M388.8 22.3h0M367.5 15.8h0M407.7 25.7h0M372.6 48.6h0M398.9 41.0h0M379.8 73.8h0M359.4 68.0h0M403.0 73.8h0M366.6 94.1h0M392.9 90.7h0M374.7 124.5h0M356.0 118.2h0M398.7 127.1h0M359.7 149.9h0M387.9 139.0h0M369.4 169.5h0M348.9 169.4h0M392.7 173.8h0M354.9 195.8h0M377.8 193.0h0M363.0 221.1h0M341.4 218.4h0M382.7 224.2h0M347.8 244.5h0M375.2 238.9h0M355.7 270.6h0M337.0 269.7h0M379.4 273.1h0M341.2 297.7h0M365.4 291.8h0M351.6 320.6h0M331.4 317.6h0M370.1 322.6h0M336.5 344.3h0M358.0 341.4h0M344.9 369.3h0M324.7 368.0h0M365.4 371.7h0M329.7 394.7h0M353.6 391.7h0M338.6 420.3h0M315.1 415.7h0M356.1 425.6h0M322.0 444.4h0M348.0 441.9h0M327.9 473.3h0M311.1 468.9h0M352.4 472.2h0M314.4 495.5h0M341.2 488.0h0M324.5 522.1h0M301.6 517.8h0M343.5 522.8h0M306.5 549.7h0M332.6 538.5h0M316.0 569.5h0M296.5 568.7h0M336.1 572.5h0M301.8 596.9h0M326.2 590.7h0M307.2 624.5h0M289.2 616.6h0M331.8 624.7h0M294.6 647.3h0M320.0 640.5h0M300.7 674.0h0M281.2 665.6h0M324.8 673.6h0M287.5 695.6h0M313.3 691.8h0M296.0 719.7h0M273.2 717.0h0M317.2 725.3h0M277.7 747.5h0M303.6 743.8h0M288.1 772.8h0M267.2 766.6h0M307.2 773.5h0M273.5 794.4h0M298.7 790.5h0M279.6 819.4h0M262.0 816.1h0M302.7 826.2h0M263.2 847.0h0M288.8 840.5h0M273.2 869.2h0M251.1 866.7h0M295.7 874.6h0M256.8 899.7h0M283.8 888.6h0M265.5 919.7h0M247.2 915.5h0M286.3 924.8h0M250.1 945.6h0M274.1 943.8h0M257.8 970.3h0M236.4 970.5h0M280.6 975.3h0M243.4 995.9h0M265.8 991.2h0M251.9 1019.3h0M229.3 1017.8h0M271.3 1027.0h0M473.0 6.1h0M496.9 1.6h0M483.0 30.9h0M460.8 27.7h0M504.0 31.8h0M465.9 57.5h0M490.2 53.1h0M474.4 79.1h0M456.6 76.8h0M495.3 85.8h0M459.7 107.3h0M484.8 100.6h0M467.9 130.3h0M448.1 128.4h0M489.9 135.2h0M455.6 156.7h0M481.2 150.0h0M462.1 183.6h0M445.0 176.1h0M484.5 181.4h0M450.7 205.6h0M474.3 197.9h0M457.6 232.7h0M439.1 224.1h0M479.8 232.5h0M441.9 257.1h0M467.4 252.1h0M451.5 280.2h0M431.3 277.1h0M472.9 284.3h0M436.0 304.1h0M462.1 297.1h0M445.1 332.7h0M424.3 324.4h0M463.9 333.5h0M431.3 354.3h0M452.7 352.2h0M437.7 383.1h0M417.9 376.4h0M458.1 382.0h0M423.5 403.2h0M448.4 400.6h0M430.4 431.1h0M411.6 426.0h0M452.7 432.9h0M415.3 457.7h0M438.9 451.2h0M425.5 479.7h0M402.2 475.0h0M447.0 480.7h0M409.1 503.8h0M435.3 499.7h0M417.2 531.0h0M398.4 524.3h0M439.0 535.2h0M402.2 558.1h0M428.4 551.4h0M408.2 581.8h0M391.5 579.4h0M430.4 581.8h0M393.6 605.2h0M418.8 599.3h0M401.4 629.4h0M382.1 626.7h0M424.3 635.0h0M390.1 654.1h0M413.7 652.5h0M396.0 679.4h0M375.4 676.8h0M418.1 680.8h0M381.5 707.7h0M406.7 702.3h0M390.3 732.7h0M369.4 729.6h0M411.5 733.1h0M375.1 757.1h0M398.7 751.4h0M381.4 779.3h0M362.3 775.6h0M402.2 785.2h0M367.8 806.3h0M390.4 799.3h0M373.9 831.7h0M353.5 825.0h0M395.4 830.7h0M357.7 855.7h0M385.3 847.2h0M368.1 883.9h0M348.6 876.1h0M388.1 881.1h0M350.5 903.2h0M378.2 900.7h0M361.0 931.0h0M341.0 926.8h0M381.7 934.3h0M344.3 954.1h0M371.2 949.8h0M351.7 979.5h0M329.8 979.0h0M373.0 983.8h0M337.0 1007.1h0M363.6 997.7h0M344.1 1030.6h0M325.0 1029.3h0M367.5 1032.5h0M574.4 -40.8h0M600.5 -47.1h0M582.9 -11.1h0M562.4 -20.3h0M604.5 -11.2h0M567.2 9.4h0M591.5 5.1h0M575.2 37.5h0M554.5 31.2h0M599.9 37.8h0M560.2 60.2h0M588.5 54.5h0M569.7 84.0h0M550.8 80.7h0M589.9 88.7h0M554.4 113.6h0M579.8 106.6h0M561.6 138.7h0M543.0 130.8h0M586.4 137.5h0M548.5 161.5h0M575.0 155.5h0M557.0 186.9h0M537.7 183.4h0M578.1 188.4h0M542.8 209.2h0M566.1 207.7h0M551.3 235.6h0M529.7 233.0h0M572.8 238.6h0M535.1 258.7h0M562.1 257.0h0M543.0 283.9h0M523.7 283.2h0M563.2 289.9h0M528.6 311.2h0M555.0 304.4h0M539.2 336.5h0M518.4 334.5h0M557.1 341.0h0M522.7 361.3h0M546.0 356.2h0M530.5 388.8h0M513.2 384.2h0M551.4 391.6h0M518.5 413.6h0M542.4 403.2h0M524.4 437.8h0M504.0 431.1h0M547.5 438.4h0M509.3 460.9h0M534.2 456.2h0M517.9 487.1h0M496.8 481.2h0M539.6 490.9h0M503.8 509.9h0M528.0 505.9h0M512.3 538.9h0M491.3 531.3h0M531.3 539.6h0M494.7 564.1h0M520.6 555.4h0M503.1 586.6h0M487.1 580.8h0M524.9 590.7h0M488.3 611.2h0M514.0 603.2h0M497.1 639.4h0M476.6 630.9h0M522.0 636.6h0M484.8 662.9h0M509.3 657.5h0M490.4 685.0h0M469.7 681.1h0M514.4 687.0h0M474.6 711.4h0M503.4 704.3h0M485.5 738.6h0M465.7 733.8h0M506.4 739.3h0M468.7 761.9h0M494.7 752.7h0M476.6 786.2h0M456.5 779.9h0M502.4 788.2h0M464.0 811.4h0M488.9 806.9h0M471.0 835.4h0M450.8 831.4h0M494.9 841.1h0M454.5 860.2h0M482.9 852.5h0M462.8 884.8h0M442.0 881.3h0M488.5 887.2h0M447.7 912.0h0M474.2 906.8h0M455.8 939.0h0M436.4 933.0h0M481.0 940.3h0M441.8 963.7h0M467.2 956.6h0M451.0 984.6h0M426.7 982.7h0M474.1 990.4h0M665.2 -16.9h0M685.2 -20.7h0M672.1 8.6h0M653.7 5.2h0M690.2 9.5h0M659.2 33.9h0M680.4 25.1h0M664.4 58.6h0M650.0 51.9h0M684.8 57.9h0M650.7 82.0h0M673.3 75.9h0M661.2 107.7h0M641.2 101.8h0M679.1 112.0h0M645.3 130.4h0M670.3 126.0h0M652.4 157.9h0M635.0 154.2h0M673.9 158.7h0M639.4 184.6h0M663.6 177.5h0M647.3 211.0h0M628.9 201.5h0M666.3 211.8h0M632.7 234.4h0M657.0 228.0h0M642.6 259.3h0M622.7 255.5h0M660.0 262.0h0M627.4 284.0h0M651.9 274.6h0M634.9 306.6h0M616.5 304.4h0M655.0 312.4h0M620.1 335.9h0M646.4 327.7h0M629.5 357.2h0M607.1 357.0h0M649.7 362.4h0M615.4 383.5h0M636.7 379.4h0M622.8 408.2h0M604.4 405.5h0M644.3 412.6h0M608.0 430.7h0M633.8 429.8h0M615.2 459.8h0M596.2 455.9h0M637.6 461.8h0M602.2 485.5h0M625.7 480.1h0M610.4 508.2h0M588.0 504.7h0M630.0 513.5h0M593.4 533.3h0M621.9 525.4h0M602.9 556.9h0M582.2 556.2h0M625.0 561.8h0M588.5 585.7h0M612.8 576.3h0M595.3 607.5h0M576.0 602.0h0M619.9 609.7h0M581.7 635.9h0M606.8 625.8h0M590.7 659.1h0M571.1 652.0h0M611.1 659.4h0M574.4 685.0h0M602.2 676.9h0M586.0 708.5h0M566.3 703.2h0M608.0 708.0h0M568.0 732.8h0M596.9 725.8h0M579.0 759.6h0M555.8 756.1h0M599.7 759.6h0M564.9 785.7h0M590.6 775.2h0M571.0 808.6h0M551.7 801.8h0M593.1 810.9h0M559.1 832.1h0M581.2 827.1h0M564.2 859.9h0M543.9 853.8h0M589.0 859.2h0M550.8 884.0h0M576.1 878.3h0M558.5 908.4h0M537.5 902.2h0M580.2 908.5h0M545.6 930.3h0M568.1 926.3h0M552.7 957.2h0M534.4 952.5h0M572.0 960.7h0M540.0 980.8h0M561.6 977.8h0M544.2 1009.6h0M527.9 1006.6h0M565.2 1011.8h0M754.1 6.7h0M777.8 1.7h0M760.4 30.6h0M739.3 28.3h0M786.2 34.3h0M746.6 59.6h0M771.2 52.9h0M757.0 84.9h0M736.5 78.1h0M780.3 83.5h0M742.9 106.1h0M768.1 103.2h0M748.0 133.5h0M730.0 126.8h0M772.3 137.1h0M734.9 154.4h0M759.2 150.2h0M744.1 180.5h0M722.5 177.4h0M767.4 184.1h0M730.2 207.7h0M752.0 203.8h0M735.8 234.5h0M718.7 226.3h0M759.5 236.2h0M724.2 257.0h0M746.8 250.7h0M730.3 280.5h0M713.8 275.4h0M751.9 287.4h0M716.4 306.6h0M741.5 302.9h0M727.2 330.2h0M703.6 330.7h0M745.4 334.4h0M710.5 358.0h0M734.8 350.0h0M719.2 382.8h0M700.4 378.1h0M741.9 384.5h0M706.3 406.8h0M729.3 403.8h0M714.1 432.7h0M692.2 429.4h0M732.4 434.2h0M700.0 454.3h0M721.9 450.1h0M705.2 479.3h0M686.8 479.2h0M728.1 484.3h0M693.2 509.6h0M718.6 499.5h0M701.1 530.3h0M680.4 529.0h0M721.0 537.0h0M684.9 558.4h0M709.0 553.2h0M695.0 582.9h0M674.4 577.1h0M716.5 583.7h0M680.0 608.1h0M704.3 601.5h0M686.3 630.7h0M669.5 625.8h0M709.9 635.3h0M675.2 657.9h0M696.9 654.1h0M681.4 681.7h0M663.7 677.4h0M700.0 685.1h0M667.3 709.9h0M690.8 702.7h0M675.3 732.7h0M655.1 725.9h0M694.3 736.1h0M662.7 754.9h0M685.3 752.7h0M667.2 781.5h0M648.5 779.7h0M689.3 785.7h0M652.8 805.8h0M679.0 801.7h0M664.0 832.7h0M644.5 826.5h0M682.5 834.3h0M647.3 856.0h0M671.8 851.5h0M655.7 884.6h0M637.5 878.2h0M675.2 885.4h0M642.6 905.8h0M663.2 900.5h0M648.8 930.2h0M630.8 929.3h0M670.4 934.6h0M634.6 956.1h0M658.9 952.7h0M644.1 981.7h0M624.2 975.3h0M663.8 986.8h0M629.9 1005.3h0M653.6 1001.4h0M636.7 1031.1h0M618.9 1029.0h0M655.8 1033.7h0M853.0 -9.8h0M878.0 -16.1h0M859.0 15.3h0M840.0 16.1h0M880.1 21.5h0M845.2 40.9h0M868.3 39.3h0M854.8 69.9h0M832.8 64.5h0M875.9 71.3h0M838.0 93.0h0M865.2 87.1h0M845.7 118.0h0M828.3 111.7h0M866.4 117.2h0M831.9 141.7h0M855.3 136.4h0M841.3 167.8h0M821.5 162.4h0M862.8 170.1h0M826.8 192.9h0M851.8 186.8h0M833.0 215.0h0M815.7 215.6h0M857.1 217.0h0M821.2 243.1h0M843.5 237.7h0M829.2 265.1h0M807.9 264.7h0M848.4 268.6h0M812.9 295.1h0M839.8 284.7h0M819.7 320.3h0M802.9 311.6h0M842.3 319.3h0M805.9 343.6h0M830.0 337.0h0M815.4 365.8h0M797.0 363.0h0M837.8 367.8h0M800.1 391.0h0M824.4 384.1h0M807.6 420.3h0M790.6 415.5h0M828.0 421.1h0M792.8 442.0h0M817.9 434.9h0M803.1 465.4h0M781.6 463.6h0M821.8 468.5h0M787.7 490.1h0M812.4 483.9h0M796.9 516.0h0M777.6 512.1h0M818.0 522.6h0M783.2 540.8h0M807.1 536.3h0M789.4 567.2h0M770.8 562.0h0M811.8 569.2h0M774.3 593.7h0M798.6 583.6h0M782.3 617.0h0M761.1 613.9h0M805.4 619.8h0M768.7 645.2h0M793.0 637.6h0M777.1 670.4h0M756.6 663.2h0M797.3 672.6h0M761.0 693.0h0M786.1 687.4h0M771.6 720.1h0M751.6 716.4h0M789.6 717.2h0M756.9 741.5h0M778.9 736.8h0M762.8 765.1h0M742.6 761.2h0M783.2 771.4h0M749.7 790.5h0M775.1 784.2h0M758.4 818.3h0M738.0 814.8h0M778.1 818.6h0M742.2 841.7h0M766.5 838.9h0M750.9 869.2h0M729.9 860.9h0M772.9 870.4h0M735.3 890.8h0M760.6 885.7h0M745.9 917.0h0M723.3 914.1h0M765.6 919.0h0M729.4 940.4h0M755.2 933.8h0M739.1 969.7h0M717.2 964.0h0M759.2 970.3h0M723.5 990.5h0M746.6 986.4h0M732.7 1017.1h0M710.5 1014.3h0M753.4 1018.4h0M942.4 5.4h0M965.5 -1.1h0M952.1 30.8h0M932.5 25.3h0M971.0 32.9h0M936.2 53.5h0M958.3 51.6h0M943.5 81.1h0M925.7 76.0h0M963.4 81.0h0M928.6 107.8h0M955.3 96.9h0M937.3 129.3h0M921.3 127.7h0M959.7 130.8h0M926.6 154.4h0M949.6 149.6h0M930.7 181.0h0M914.0 175.7h0M951.4 180.5h0M919.6 208.0h0M940.2 199.9h0M928.0 231.3h0M907.5 227.7h0M947.4 232.2h0M911.7 257.6h0M934.9 246.5h0M920.5 282.8h0M898.7 278.7h0M941.9 280.2h0M905.6 304.6h0M931.2 297.4h0M914.5 331.7h0M894.1 325.6h0M934.7 331.9h0M899.4 354.0h0M924.7 351.8h0M908.5 377.9h0M886.8 378.0h0M930.2 384.9h0M893.9 402.5h0M917.6 398.3h0M902.7 430.3h0M882.8 426.8h0M923.9 431.0h0M885.6 454.4h0M911.5 450.9h0M896.8 478.4h0M875.7 476.0h0M915.3 485.5h0M880.5 505.3h0M905.4 497.8h0M889.1 532.8h0M869.5 524.6h0M909.5 533.2h0M873.4 556.1h0M898.2 550.7h0M881.3 582.0h0M861.8 574.1h0M905.6 580.3h0M866.9 608.0h0M894.2 597.5h0M874.7 632.2h0M855.9 624.9h0M896.6 630.3h0M859.8 654.4h0M886.8 646.9h0M871.4 678.8h0M849.7 678.8h0M892.2 681.2h0M856.5 704.1h0M880.6 698.6h0M863.7 731.6h0M842.2 727.6h0M884.3 730.5h0M846.2 757.8h0M872.7 747.7h0M858.2 779.7h0M835.3 774.1h0M877.8 779.7h0M841.7 806.4h0M866.7 799.9h0M849.9 829.2h0M832.3 823.3h0M869.7 833.9h0M836.9 853.3h0M861.2 849.1h0M842.1 881.6h0M822.3 878.0h0M866.2 880.4h0M828.1 906.9h0M854.7 898.4h0M837.1 928.8h0M815.5 929.0h0M859.5 935.2h0M821.2 958.0h0M847.0 947.2h0M832.6 978.1h0M812.3 976.5h0M851.6 982.5h0M814.3 1007.8h0M842.0 997.4h0M825.1 1030.6h0M805.2 1029.0h0M845.7 1033.2h0M1043.5 -34.1h0M1078.8 -41.4h0M1054.7 -9.2h0M1032.2 -12.5h0M1084.5 -6.1h0M1039.3 15.4h0M1070.5 10.3h0M1051.7 43.1h0M1025.2 38.4h0M1076.7 44.5h0M1031.9 65.6h0M1066.3 57.9h0M1045.8 89.0h0M1018.0 88.7h0M1070.7 90.3h0M1027.5 116.5h0M1058.4 108.8h0M1039.0 138.6h0M1013.7 138.4h0M1065.3 143.5h0M1020.2 162.7h0M1049.9 159.1h0M1034.1 188.1h0M1007.0 187.8h0M1059.9 194.3h0M1014.3 216.5h0M1047.1 209.0h0M1023.9 243.4h0M1001.2 238.6h0M1053.0 242.2h0M1009.7 264.3h0M1039.0 260.0h0M1021.4 288.0h0M995.5 289.4h0M1046.6 291.9h0M1002.9 313.4h0M1032.3 308.7h0M1011.5 339.4h0M987.7 336.3h0M1038.6 341.2h0M994.5 363.4h0M1023.7 362.5h0M1006.1 393.0h0M982.6 384.4h0M1030.7 393.2h0M987.9 415.9h0M1020.4 408.5h0M998.9 442.7h0M978.3 436.1h0M1024.6 442.1h0M985.3 464.1h0M1013.7 458.7h0M994.2 493.3h0M970.3 484.8h0M1019.5 492.1h0M979.1 516.4h0M1006.3 510.8h0M987.4 542.5h0M964.8 534.8h0M1011.9 541.8h0M971.0 565.0h0M999.7 556.9h0M980.8 593.4h0M957.5 585.9h0M1006.1 594.4h0M964.9 615.1h0M994.3 608.3h0M975.5 640.2h0M951.8 635.7h0M999.9 641.3h0M956.2 665.6h0M987.0 657.4h0M969.2 692.3h0M945.7 688.7h0M991.5 696.0h0M950.4 713.6h0M978.8 711.4h0M960.3 739.6h0M936.7 739.1h0M987.1 741.6h0M943.1 766.9h0M973.8 760.1h0M955.1 791.0h0M932.7 788.4h0M979.0 795.3h0M938.7 812.9h0M968.1 806.8h0M949.5 840.5h0M925.8 838.7h0M972.5 844.3h0M932.3 867.0h0M962.3 858.0h0M942.0 890.5h0M920.0 884.8h0M967.7 893.0h0M925.0 917.7h0M953.7 910.2h0M936.6 939.1h0M909.6 939.2h0M960.4 940.4h0M918.6 963.1h0M946.4 958.7h0M928.6 992.3h0M903.5 989.2h0M954.1 992.4h0" stroke="#16330A" stroke-width="6.5" opacity="0.8" stroke-linecap="round" fill="none"/>
<g filter="url(#fb2)"><use href="#wd" fill="#6E5A35" opacity="0.95"/></g>
<rect x="42.2" y="41.4" width="952.0" height="943.0" filter="url(#fnd)"/>
<g filter="url(#fb2)"><use href="#wd" fill="#574829" opacity="0.5"/></g>
<path d="M851 430l32 2M826 584l32 2M814 662l32 2M701 823l28 2M330 756l28 2M890 86l28 2" stroke="#B9A266" stroke-width="3.6" fill="none" opacity="0.9"/>
<path d="M33.0 20.0L72.0 20.0H70.9V37.1H66.6V87.1H60.1V137.1H53.7V187.1H47.2V237.1H43.8V240.0L4.6 240.0H5.7V222.1H10.1V172.1H16.6V122.1H23.1V72.1H29.5V22.1H32.9V20.0ZM100.7 217.2L143.1 217.2H141.6V239.8H137.0V289.8H130.7V339.8H124.3V389.8H117.9V439.8H114.5V443.9L80.6 443.9H81.3V428.1H84.3V378.1H88.7V328.1H93.1V278.1H97.5V228.1H100.2V217.2ZM67.6 499.0L106.9 499.0H103.9V539.8H97.2V589.8H90.2V639.8H83.4V689.8H77.0V739.8H70.8V789.8H65.0V839.8H59.5V889.8H54.2V939.8H49.3V989.8H46.0V1010.0L8.4 1010.0H10.1V978.1H14.6V928.1H20.2V878.1H25.8V828.1H31.5V778.1H37.3V728.1H43.1V678.1H49.0V628.1H55.0V578.1H61.0V528.1H65.8V499.0ZM195.8 232.8L237.2 232.8H236.2V247.1H231.9V297.1H225.3V347.1H218.7V397.1H212.1V447.1H205.6V497.1H199.1V547.1H192.6V597.1H186.2V647.1H179.8V697.1H173.5V747.1H167.2V797.1H160.9V847.1H154.7V897.1H148.6V947.1H142.4V997.1H138.6V1010.0L98.7 1010.0H100.7V980.8H106.0V930.8H112.7V880.8H119.3V830.8H125.8V780.8H132.3V730.8H138.6V680.8H145.0V630.8H151.2V580.8H157.4V530.8H163.5V480.8H169.6V430.8H175.6V380.8H181.5V330.8H187.3V280.8H193.0V232.8ZM306.2 107.6L350.1 107.6H348.1V137.0H343.0V187.0H336.4V237.0H329.9V287.0H325.8V299.4L289.4 299.4H289.9V288.1H292.6V238.1H296.9V188.1H301.3V138.1H304.8V107.6ZM271.6 409.5L308.4 409.5H306.6V437.0H301.7V487.0H295.2V537.0H288.8V587.0H282.4V637.0H277.1V669.5L238.6 669.5H240.6V638.1H245.8V588.1H252.1V538.1H258.5V488.1H264.8V438.1H269.8V409.5ZM418.1 20.0L453.5 20.0H451.9V46.1H447.4V96.1H441.4V146.1H435.3V196.1H429.1V246.1H422.8V296.1H416.5V346.1H410.0V396.1H403.5V446.1H396.9V496.1H390.2V546.1H383.4V596.1H376.5V646.1H372.6V651.9L333.0 651.9H334.8V628.0H340.1V578.0H347.3V528.0H354.4V478.0H361.4V428.0H368.3V378.0H375.1V328.0H381.8V278.0H388.5V228.0H395.0V178.0H401.4V128.0H407.8V78.0H414.0V28.0H417.6V20.0ZM504.1 97.7L538.8 97.7H538.6V101.5H535.6V151.5H530.0V201.5H524.1V251.5H518.2V301.5H512.0V351.5H505.6V401.5H499.1V451.5H492.4V501.5H485.6V551.5H478.5V601.5H473.5V621.7L433.4 621.7H436.0V587.1H442.2V537.1H449.4V487.1H456.5V437.1H463.5V387.1H470.3V337.1H477.0V287.1H483.5V237.1H490.0V187.1H496.2V137.1H501.7V97.7ZM401.4 863.0L440.1 863.0H438.0V901.5H433.3V951.5H429.6V969.9L389.2 969.9H391.1V937.1H395.8V887.1H400.1V863.0ZM606.7 20.0L646.0 20.0H645.8V23.3H643.2V73.3H639.9V89.0L599.8 89.0H602.1V42.5H605.6V20.0ZM577.9 227.6L620.0 227.6H617.0V273.3H610.9V323.3H604.4V373.3H597.9V423.3H591.4V473.3H584.9V523.3H578.4V573.3H571.9V623.3H565.4V673.3H558.9V723.3H552.5V771.2L509.7 771.2H511.6V742.5H517.1V692.5H523.8V642.5H530.4V592.5H536.9V542.5H543.3V492.5H549.6V442.5H555.7V392.5H561.7V342.5H567.6V292.5H573.4V242.5H577.0V227.6ZM506.9 799.4L545.3 799.4H543.8V823.3H539.1V873.3H532.9V923.3H526.6V973.3H521.1V1010.0L483.6 1010.0H484.5V992.5H488.3V942.5H493.8V892.5H499.4V842.5H504.5V799.4ZM645.5 426.8L687.2 426.8H686.0V447.2H682.1V497.2H676.3V547.2H670.2V597.2H664.0V647.2H657.6V697.2H650.9V747.2H644.1V797.1L602.5 797.1H604.7V764.3H610.3V714.3H616.7V664.3H622.9V614.3H628.7V564.3H634.2V514.3H639.4V464.3H643.8V426.8ZM599.5 839.3L634.6 839.3H634.1V847.2H630.8V897.2H625.0V947.2H619.2V997.2H615.6V1010.0L575.8 1010.0H579.0V964.3H585.6V914.3H592.5V864.3H597.7V839.3ZM981.5 768.0L1020.5 768.0H1020.3V773.5H1019.8V779.0L980.5 779.0H981.0V768.0ZM983.9 801.6L1022.9 801.6H1021.4V823.5H1016.6V873.5H1010.0V923.5H1003.3V973.5H997.6V1010.0L956.6 1010.0H957.5V996.7H961.6V946.7H968.2V896.7H974.7V846.7H980.9V801.6Z" fill="#EEAE70"/>
<g clip-path="url(#cs)"><rect x="42.2" y="41.4" width="952.0" height="943.0" filter="url(#fns)" opacity="0.55"/></g>
<path d="M-6.9 -19.2L-18.5 70.8L-30.1 160.8L-41.8 250.8L-53.4 340.8L-65.0 430.8L-76.6 520.8L-88.2 610.8L-99.8 700.8L-111.4 790.8L-123.0 880.8L-134.6 970.8M25.8 -24.0L14.2 66.0L2.6 156.0L-9.0 246.0L-20.6 336.0L-32.2 426.0L-43.8 516.0L-55.4 606.0L-67.0 696.0L-78.7 786.0L-90.3 876.0L-101.9 966.0M88.5 -27.4L77.1 62.6L65.7 152.6L54.3 242.6L42.8 332.6L31.4 422.6L20.0 512.6L8.6 602.6L-2.8 692.6L-14.2 782.6L-25.7 872.6L-37.1 962.6M120.2 -24.6L108.9 65.4L97.7 155.4L86.5 245.4L75.3 335.4L64.1 425.4L52.8 515.4L41.6 605.4L30.4 695.4L19.2 785.4L8.0 875.4L-3.2 965.4M182.0 -22.0L171.2 68.0L160.3 158.0L149.4 248.0L138.5 338.0L127.5 428.0L116.5 518.0L105.4 608.0L94.2 698.0L83.1 788.0L71.9 878.0L60.6 968.0M213.4 -16.5L202.8 73.5L192.1 163.5L181.3 253.5L170.5 343.5L159.5 433.5L148.4 523.5L137.3 613.5L126.1 703.5L114.7 793.5L103.3 883.5L91.8 973.5M277.9 -20.9L267.4 69.1L256.8 159.1L245.9 249.1L234.8 339.1L223.6 429.1L212.1 519.1L200.4 609.1L188.6 699.1L176.6 789.1L164.3 879.1L151.9 969.1M311.5 -18.2L300.9 71.8L290.0 161.8L278.9 251.8L267.6 341.8L255.9 431.8L244.1 521.8L232.0 611.8L219.6 701.8L207.0 791.8L194.1 881.8L181.0 971.8M376.3 -18.3L365.4 71.7L354.3 161.7L342.8 251.7L331.1 341.7L319.1 431.7L306.8 521.7L294.2 611.7L281.4 701.7L268.3 791.7L254.9 881.7L241.2 971.7M409.9 -24.0L398.9 66.0L387.6 156.0L376.0 246.0L364.2 336.0L352.2 426.0L339.9 516.0L327.3 606.0L314.5 696.0L301.5 786.0L288.2 876.0L274.6 966.0M472.6 -22.9L461.6 67.1L450.3 157.1L438.7 247.1L426.9 337.1L414.9 427.1L402.7 517.1L390.2 607.1L377.5 697.1L364.6 787.1L351.4 877.1L338.0 967.1M503.9 -18.3L493.0 71.7L481.8 161.7L470.4 251.7L458.7 341.7L446.8 431.7L434.7 521.7L422.2 611.7L409.6 701.7L396.7 791.7L383.5 881.7L370.1 971.7M567.0 -19.9L555.8 70.1L544.5 160.1L533.0 250.1L521.4 340.1L509.6 430.1L497.7 520.1L485.6 610.1L473.4 700.1L461.0 790.1L448.5 880.1L435.8 970.1M600.5 -24.4L588.9 65.6L577.3 155.6L565.6 245.6L553.9 335.6L542.1 425.6L530.3 515.6L518.5 605.6L506.7 695.6L494.8 785.6L482.9 875.6L471.0 965.6M661.4 -27.4L650.1 62.6L638.7 152.6L627.3 242.6L615.9 332.6L604.5 422.6L593.1 512.6L581.7 602.6L570.3 692.6L558.9 782.6L547.4 872.6L536.0 962.6M689.9 -19.8L679.2 70.2L668.5 160.2L657.6 250.2L646.6 340.2L635.6 430.2L624.4 520.2L613.1 610.2L601.8 700.2L590.3 790.2L578.8 880.2L567.1 970.2M751.9 -25.9L741.5 64.1L730.8 154.1L720.1 244.1L709.2 334.1L698.2 424.1L687.0 514.1L675.7 604.1L664.3 694.1L652.8 784.1L641.1 874.1L629.3 964.1M785.8 -26.3L774.8 63.7L763.7 153.7L752.5 243.7L741.3 333.7L730.0 423.7L718.6 513.7L707.1 603.7L695.6 693.7L684.0 783.7L672.3 873.7L660.5 963.7M849.7 -26.5L838.1 63.5L826.5 153.5L814.9 243.5L803.4 333.5L791.8 423.5L780.2 513.5L768.6 603.5L757.0 693.5L745.4 783.5L733.7 873.5L722.1 963.5M880.8 -20.4L869.3 69.6L857.7 159.6L846.1 249.6L834.5 339.6L822.9 429.6L811.4 519.6L799.8 609.6L788.2 699.6L776.7 789.6L765.1 879.6L753.6 969.6M941.6 -20.9L930.4 69.1L919.2 159.1L908.0 249.1L896.6 339.1L885.3 429.1L873.9 519.1L862.4 609.1L850.9 699.1L839.3 789.1L827.7 879.1L816.0 969.1M971.6 -16.9L960.9 73.1L950.1 163.1L939.2 253.1L928.2 343.1L917.0 433.1L905.7 523.1L894.3 613.1L882.8 703.1L871.2 793.1L859.4 883.1L847.5 973.1M1039.0 -21.7L1028.2 68.3L1017.3 158.3L1006.3 248.3L995.2 338.3L983.9 428.3L972.5 518.3L961.0 608.3L949.4 698.3L937.6 788.3L925.7 878.3L913.7 968.3M1077.5 -23.2L1066.2 66.8L1054.8 156.8L1043.3 246.8L1031.8 336.8L1020.2 426.8L1008.6 516.8L996.9 606.8L985.1 696.8L973.3 786.8L961.4 876.8L949.5 966.8" stroke="#142F08" stroke-width="8.5" opacity="0.8" stroke-linecap="round" stroke-linejoin="round" fill="none" stroke-dasharray="0 14.5"/>
<path d="M29.5 24.5L20.4 94.5L11.4 164.5L2.3 234.5L1.8 238.0M74.1 27.4L65.0 97.4L56.0 167.4L46.9 237.4L46.8 238.0M97.0 224.9L90.8 294.9L84.6 364.9L78.4 434.9L77.8 441.9M145.8 219.3L136.9 289.3L128.0 359.3L119.1 429.3L117.5 441.9M64.1 503.2L55.6 573.2L47.2 643.2L38.9 713.2L30.8 783.2L22.8 853.2L14.9 923.2L7.2 993.2L5.6 1008.0M109.2 503.8L98.9 573.8L89.2 643.8L80.1 713.8L71.6 783.8L63.6 853.8L56.3 923.8L49.6 993.8L48.3 1008.0M192.4 236.2L184.3 306.2L176.1 376.2L167.7 446.2L159.3 516.2L150.7 586.2L141.9 656.2L133.0 726.2L124.0 796.2L114.9 866.2L105.6 936.2L96.2 1006.2L96.0 1008.0M239.1 241.0L229.8 311.0L220.5 381.0L211.3 451.0L202.2 521.0L193.2 591.0L184.2 661.0L175.4 731.0L166.6 801.0L157.9 871.0L149.3 941.0L141.1 1008.0M302.2 118.3L296.1 188.3L290.0 258.3L286.6 297.4M352.5 111.7L343.4 181.7L334.3 251.7L328.3 297.4M268.1 413.7L259.2 483.7L250.3 553.7L241.5 623.7L235.9 667.5M309.9 421.3L300.9 491.3L291.9 561.3L283.0 631.3L278.3 667.5M413.7 31.4L405.0 101.4L396.1 171.4L387.0 241.4L377.7 311.4L368.3 381.4L358.6 451.4L348.8 521.4L338.8 591.4L330.3 649.9M455.4 28.9L447.1 98.9L438.6 168.9L429.9 238.9L421.0 308.9L412.0 378.9L402.8 448.9L393.4 518.9L383.9 588.9L375.5 649.9M500.5 102.7L491.9 172.7L483.0 242.7L473.9 312.7L464.5 382.7L454.8 452.7L444.9 522.7L434.7 592.7L430.7 619.7M541.2 103.3L533.3 173.3L525.1 243.3L516.6 313.3L507.8 383.3L498.6 453.3L489.0 523.3L479.1 593.3L475.3 619.7M398.0 866.7L390.0 936.7L386.4 967.9M442.7 866.5L435.2 936.5L431.8 967.9M603.2 25.1L597.0 87.0M648.0 30.2L642.3 87.0M574.1 234.4L566.1 304.4L557.9 374.4L549.4 444.4L540.7 514.4L531.7 584.4L522.5 654.4L513.1 724.4L506.9 769.2M622.3 232.8L613.3 302.8L604.2 372.8L595.2 442.8L586.1 512.8L577.0 582.8L567.8 652.8L558.7 722.8L552.6 769.2M503.2 806.2L495.4 876.2L487.6 946.2L480.8 1008.0M547.1 808.4L538.3 878.4L529.6 948.4L522.1 1008.0M641.5 437.2L634.6 507.2L627.1 577.2L618.9 647.2L610.2 717.2L600.8 787.2L599.7 795.1M689.9 429.0L682.0 499.0L673.6 569.0L664.9 639.0L655.7 709.0L646.1 779.0L643.8 795.1M595.1 849.2L585.4 919.2L575.7 989.2L573.1 1008.0M636.9 845.0L628.8 915.0L620.8 985.0L618.1 1008.0M978.0 773.5L977.7 777.0M1022.8 775.2L1022.7 777.0M979.6 811.4L970.4 881.4L961.3 951.4L953.9 1008.0M1025.5 804.7L1016.1 874.7L1006.8 944.7L998.4 1008.0" stroke="#222D05" stroke-width="8.5" opacity="0.95" stroke-linecap="round" stroke-linejoin="round" fill="none" stroke-dasharray="0 14.5"/>
<path d="M29.5 24.5L20.4 94.5L11.4 164.5L2.3 234.5L1.8 238.0M74.1 27.4L65.0 97.4L56.0 167.4L46.9 237.4L46.8 238.0M97.0 224.9L90.8 294.9L84.6 364.9L78.4 434.9L77.8 441.9M145.8 219.3L136.9 289.3L128.0 359.3L119.1 429.3L117.5 441.9M64.1 503.2L55.6 573.2L47.2 643.2L38.9 713.2L30.8 783.2L22.8 853.2L14.9 923.2L7.2 993.2L5.6 1008.0M109.2 503.8L98.9 573.8L89.2 643.8L80.1 713.8L71.6 783.8L63.6 853.8L56.3 923.8L49.6 993.8L48.3 1008.0M192.4 236.2L184.3 306.2L176.1 376.2L167.7 446.2L159.3 516.2L150.7 586.2L141.9 656.2L133.0 726.2L124.0 796.2L114.9 866.2L105.6 936.2L96.2 1006.2L96.0 1008.0M239.1 241.0L229.8 311.0L220.5 381.0L211.3 451.0L202.2 521.0L193.2 591.0L184.2 661.0L175.4 731.0L166.6 801.0L157.9 871.0L149.3 941.0L141.1 1008.0M302.2 118.3L296.1 188.3L290.0 258.3L286.6 297.4M352.5 111.7L343.4 181.7L334.3 251.7L328.3 297.4M268.1 413.7L259.2 483.7L250.3 553.7L241.5 623.7L235.9 667.5M309.9 421.3L300.9 491.3L291.9 561.3L283.0 631.3L278.3 667.5M413.7 31.4L405.0 101.4L396.1 171.4L387.0 241.4L377.7 311.4L368.3 381.4L358.6 451.4L348.8 521.4L338.8 591.4L330.3 649.9M455.4 28.9L447.1 98.9L438.6 168.9L429.9 238.9L421.0 308.9L412.0 378.9L402.8 448.9L393.4 518.9L383.9 588.9L375.5 649.9M500.5 102.7L491.9 172.7L483.0 242.7L473.9 312.7L464.5 382.7L454.8 452.7L444.9 522.7L434.7 592.7L430.7 619.7M541.2 103.3L533.3 173.3L525.1 243.3L516.6 313.3L507.8 383.3L498.6 453.3L489.0 523.3L479.1 593.3L475.3 619.7M398.0 866.7L390.0 936.7L386.4 967.9M442.7 866.5L435.2 936.5L431.8 967.9M603.2 25.1L597.0 87.0M648.0 30.2L642.3 87.0M574.1 234.4L566.1 304.4L557.9 374.4L549.4 444.4L540.7 514.4L531.7 584.4L522.5 654.4L513.1 724.4L506.9 769.2M622.3 232.8L613.3 302.8L604.2 372.8L595.2 442.8L586.1 512.8L577.0 582.8L567.8 652.8L558.7 722.8L552.6 769.2M503.2 806.2L495.4 876.2L487.6 946.2L480.8 1008.0M547.1 808.4L538.3 878.4L529.6 948.4L522.1 1008.0M641.5 437.2L634.6 507.2L627.1 577.2L618.9 647.2L610.2 717.2L600.8 787.2L599.7 795.1M689.9 429.0L682.0 499.0L673.6 569.0L664.9 639.0L655.7 709.0L646.1 779.0L643.8 795.1M595.1 849.2L585.4 919.2L575.7 989.2L573.1 1008.0M636.9 845.0L628.8 915.0L620.8 985.0L618.1 1008.0M978.0 773.5L977.7 777.0M1022.8 775.2L1022.7 777.0M979.6 811.4L970.4 881.4L961.3 951.4L953.9 1008.0M1025.5 804.7L1016.1 874.7L1006.8 944.7L998.4 1008.0" stroke="#8E9A3E" stroke-width="6" opacity="0.6" stroke-dashoffset="7.25" stroke-linecap="round" stroke-linejoin="round" fill="none" stroke-dasharray="0 14.5"/>
<path d="M129.4 31.2L120.8 101.2L112.2 171.2L106.8 215.2M169.6 29.7L161.0 99.7L152.4 169.7L146.8 215.2M78.4 447.5L72.3 497.0M117.6 453.9L112.3 497.0M225.0 23.3L216.9 93.3L208.7 163.3L200.7 230.8M265.1 22.0L257.0 92.0L248.8 162.0L240.7 230.8M323.6 30.7L315.2 100.7L314.6 105.6M364.3 24.9L355.9 94.9L354.6 105.6M288.7 311.0L279.5 381.0L276.0 407.5M329.2 306.8L320.1 376.8L316.0 407.5M238.4 678.3L228.2 748.3L217.9 818.3L207.4 888.3L196.6 958.3L188.9 1008.0M279.1 673.5L268.9 743.5L258.6 813.5L248.1 883.5L237.4 953.5L228.9 1008.0M335.5 663.6L325.5 733.6L315.3 803.6L305.0 873.6L294.6 943.6L284.9 1008.0M375.6 662.8L365.6 732.8L355.4 802.8L345.2 872.8L334.7 942.8L324.9 1008.0M515.0 22.7L506.5 92.7L506.2 95.7M554.7 25.0L546.3 95.0L546.2 95.7M436.5 629.7L426.6 699.7L416.7 769.7L406.5 839.7L403.4 861.0M477.3 623.7L467.5 693.7L457.5 763.7L447.4 833.7L443.4 861.0M386.0 978.7L381.5 1008.0M426.5 975.3L421.5 1008.0M602.0 91.6L592.7 161.6L584.3 225.6M640.8 100.8L631.5 170.8L624.3 225.6M513.6 773.4L510.5 797.4M552.7 780.7L550.5 797.4M698.2 27.8L690.4 97.8L682.4 167.8L674.4 237.8L666.2 307.8L657.9 377.8L652.3 424.8M738.8 22.1L731.0 92.1L723.1 162.1L715.0 232.1L706.9 302.1L698.6 372.1L692.3 424.8M605.6 799.6L600.7 837.3M645.4 800.9L640.7 837.3M796.2 31.6L787.2 101.6L778.2 171.6L769.2 241.6L760.2 311.6L751.2 381.6L742.2 451.6L733.1 521.6L724.1 591.6L715.0 661.6L705.9 731.6L696.9 801.6L687.8 871.6L678.7 941.6L670.0 1008.0M837.1 24.0L828.2 94.0L819.2 164.0L810.2 234.0L801.2 304.0L792.2 374.0L783.1 444.0L774.1 514.0L765.1 584.0L756.0 654.0L746.9 724.0L737.8 794.0L728.8 864.0L719.7 934.0L710.5 1004.0L710.0 1008.0M890.4 29.6L881.4 99.6L872.4 169.6L863.4 239.6L854.4 309.6L845.4 379.6L836.4 449.6L827.4 519.6L818.4 589.6L809.5 659.6L800.5 729.6L791.6 799.6L782.7 869.6L773.7 939.6L765.0 1008.0M930.2 31.3L921.2 101.3L912.2 171.3L903.1 241.3L894.1 311.3L885.1 381.3L876.1 451.3L867.2 521.3L858.2 591.3L849.2 661.3L840.3 731.3L831.4 801.3L822.4 871.3L813.5 941.3L805.0 1008.0M980.8 31.4L972.8 101.4L964.7 171.4L956.4 241.4L948.1 311.4L939.6 381.4L931.0 451.4L922.4 521.4L913.6 591.4L904.6 661.4L895.6 731.4L886.5 801.4L877.2 871.4L867.8 941.4L858.8 1008.0M1021.5 25.4L1013.5 95.4L1005.4 165.4L997.1 235.4L988.8 305.4L980.3 375.4L971.8 445.4L963.1 515.4L954.3 585.4L945.4 655.4L936.4 725.4L927.2 795.4L918.0 865.4L908.6 935.4L899.2 1005.4L898.8 1008.0M1016.2 609.5L1006.9 679.5L997.7 749.5L995.5 766.0M1056.1 610.0L1046.9 680.0L1037.6 750.0L1035.5 766.0M992.4 789.6L991.1 799.6M1033.5 781.4L1031.1 799.6" stroke="#1D3208" stroke-width="7.5" opacity="0.8" stroke-linecap="round" stroke-linejoin="round" fill="none" stroke-dasharray="0 14.5"/>
<path d="M24.8 67.1h0M18.3 117.1h0M11.9 167.1h0M5.4 217.1h0M71.3 42.1h0M64.9 92.1h0M58.4 142.1h0M51.9 192.1h0M98.3 223.1h0M93.8 273.1h0M89.4 323.1h0M85.0 373.1h0M80.5 423.1h0M141.7 244.8h0M135.3 294.8h0M129.0 344.8h0M122.6 394.8h0M62.6 523.1h0M56.5 573.1h0M50.5 623.1h0M44.5 673.1h0M38.7 723.1h0M32.9 773.1h0M27.1 823.1h0M21.5 873.1h0M15.9 923.1h0M10.4 973.1h0M102.3 544.8h0M95.1 594.8h0M88.2 644.8h0M81.6 694.8h0M75.4 744.8h0M69.4 794.8h0M63.7 844.8h0M58.3 894.8h0M53.2 944.8h0M48.5 994.8h0M188.7 275.8h0M182.9 325.8h0M177.0 375.8h0M171.1 425.8h0M165.1 475.8h0M159.0 525.8h0M152.8 575.8h0M146.6 625.8h0M140.3 675.8h0M134.0 725.8h0M127.5 775.8h0M121.0 825.8h0M114.5 875.8h0M107.9 925.8h0M101.2 975.8h0M236.8 252.1h0M230.1 302.1h0M223.5 352.1h0M216.9 402.1h0M210.3 452.1h0M203.8 502.1h0M197.3 552.1h0M190.9 602.1h0M184.5 652.1h0M178.1 702.1h0M171.8 752.1h0M165.6 802.1h0M159.3 852.1h0M153.1 902.1h0M147.0 952.1h0M140.9 1002.1h0M302.0 133.1h0M297.6 183.1h0M293.3 233.1h0M288.9 283.1h0M347.7 142.0h0M341.2 192.0h0M334.7 242.0h0M328.2 292.0h0M266.5 433.1h0M260.1 483.1h0M253.8 533.1h0M247.5 583.1h0M241.1 633.1h0M306.4 442.0h0M300.0 492.0h0M293.5 542.0h0M287.1 592.0h0M280.7 642.0h0M415.6 23.0h0M409.4 73.0h0M403.1 123.0h0M396.7 173.0h0M390.2 223.0h0M383.7 273.0h0M377.0 323.0h0M370.2 373.0h0M363.4 423.0h0M356.4 473.0h0M349.4 523.0h0M342.2 573.0h0M335.0 623.0h0M451.9 51.1h0M445.9 101.1h0M439.9 151.1h0M433.7 201.1h0M427.5 251.1h0M421.2 301.1h0M414.8 351.1h0M408.3 401.1h0M401.7 451.1h0M395.0 501.1h0M388.3 551.1h0M381.4 601.1h0M374.5 651.1h0M497.8 132.1h0M491.6 182.1h0M485.3 232.1h0M478.8 282.1h0M472.1 332.1h0M465.4 382.1h0M458.5 432.1h0M451.5 482.1h0M444.3 532.1h0M437.0 582.1h0M534.3 156.5h0M528.6 206.5h0M522.7 256.5h0M516.6 306.5h0M510.3 356.5h0M503.9 406.5h0M497.3 456.5h0M490.5 506.5h0M483.6 556.5h0M476.5 606.5h0M397.2 882.1h0M391.5 932.1h0M437.5 906.5h0M432.1 956.5h0M603.0 37.5h0M642.2 78.3h0M574.7 237.5h0M569.0 287.5h0M563.2 337.5h0M557.2 387.5h0M551.2 437.5h0M545.0 487.5h0M538.6 537.5h0M532.2 587.5h0M525.6 637.5h0M518.9 687.5h0M512.1 737.5h0M615.6 278.3h0M609.1 328.3h0M602.7 378.3h0M596.2 428.3h0M589.7 478.3h0M583.2 528.3h0M576.7 578.3h0M570.2 628.3h0M563.7 678.3h0M557.1 728.3h0M500.6 837.5h0M495.1 887.5h0M489.6 937.5h0M484.0 987.5h0M543.8 828.3h0M537.5 878.3h0M531.2 928.3h0M524.9 978.3h0M640.4 459.3h0M635.4 509.3h0M630.0 559.3h0M624.3 609.3h0M618.3 659.3h0M612.0 709.3h0M605.5 759.3h0M686.4 452.2h0M680.7 502.2h0M674.8 552.2h0M668.7 602.2h0M662.3 652.2h0M655.8 702.2h0M649.0 752.2h0M594.5 859.3h0M587.6 909.3h0M580.7 959.3h0M635.1 852.2h0M629.4 902.2h0M623.6 952.2h0M617.8 1002.2h0M1021.5 778.5h0M976.5 841.7h0M969.9 891.7h0M963.4 941.7h0M956.8 991.7h0M1021.5 828.5h0M1014.8 878.5h0M1008.2 928.5h0M1001.5 978.5h0" stroke="#C9BC6C" stroke-width="5.8" opacity="0.8" stroke-linecap="round" fill="none"/>
<path d="M27.3 73.1h0M20.8 123.1h0M14.4 173.1h0M7.9 223.1h0M68.8 36.1h0M62.4 86.1h0M55.9 136.1h0M49.4 186.1h0M100.8 229.1h0M96.3 279.1h0M91.9 329.1h0M87.5 379.1h0M83.0 429.1h0M139.2 238.8h0M132.8 288.8h0M126.5 338.8h0M120.1 388.8h0M65.1 529.1h0M59.0 579.1h0M53.0 629.1h0M47.0 679.1h0M41.2 729.1h0M35.4 779.1h0M29.6 829.1h0M24.0 879.1h0M18.4 929.1h0M12.9 979.1h0M99.8 538.8h0M92.6 588.8h0M85.7 638.8h0M79.1 688.8h0M72.9 738.8h0M66.9 788.8h0M61.2 838.8h0M55.8 888.8h0M50.7 938.8h0M46.0 988.8h0M191.2 281.8h0M185.4 331.8h0M179.5 381.8h0M173.6 431.8h0M167.6 481.8h0M161.5 531.8h0M155.3 581.8h0M149.1 631.8h0M142.8 681.8h0M136.5 731.8h0M130.0 781.8h0M123.5 831.8h0M117.0 881.8h0M110.4 931.8h0M103.7 981.8h0M234.3 246.1h0M227.6 296.1h0M221.0 346.1h0M214.4 396.1h0M207.8 446.1h0M201.3 496.1h0M194.8 546.1h0M188.4 596.1h0M182.0 646.1h0M175.6 696.1h0M169.3 746.1h0M163.1 796.1h0M156.8 846.1h0M150.6 896.1h0M144.5 946.1h0M138.4 996.1h0M304.5 139.1h0M300.1 189.1h0M295.8 239.1h0M291.4 289.1h0M345.2 136.0h0M338.7 186.0h0M332.2 236.0h0M325.7 286.0h0M269.0 439.1h0M262.6 489.1h0M256.3 539.1h0M250.0 589.1h0M243.6 639.1h0M303.9 436.0h0M297.5 486.0h0M291.0 536.0h0M284.6 586.0h0M278.2 636.0h0M418.1 29.0h0M411.9 79.0h0M405.6 129.0h0M399.2 179.0h0M392.7 229.0h0M386.2 279.0h0M379.5 329.0h0M372.7 379.0h0M365.9 429.0h0M358.9 479.0h0M351.9 529.0h0M344.7 579.0h0M337.5 629.0h0M449.4 45.1h0M443.4 95.1h0M437.4 145.1h0M431.2 195.1h0M425.0 245.1h0M418.7 295.1h0M412.3 345.1h0M405.8 395.1h0M399.2 445.1h0M392.5 495.1h0M385.8 545.1h0M378.9 595.1h0M372.0 645.1h0M500.3 138.1h0M494.1 188.1h0M487.8 238.1h0M481.3 288.1h0M474.6 338.1h0M467.9 388.1h0M461.0 438.1h0M454.0 488.1h0M446.8 538.1h0M439.5 588.1h0M531.8 150.5h0M526.1 200.5h0M520.2 250.5h0M514.1 300.5h0M507.8 350.5h0M501.4 400.5h0M494.8 450.5h0M488.0 500.5h0M481.1 550.5h0M474.0 600.5h0M399.7 888.1h0M394.0 938.1h0M435.0 900.5h0M429.6 950.5h0M605.5 43.5h0M639.7 72.3h0M577.2 243.5h0M571.5 293.5h0M565.7 343.5h0M559.7 393.5h0M553.7 443.5h0M547.5 493.5h0M541.1 543.5h0M534.7 593.5h0M528.1 643.5h0M521.4 693.5h0M514.6 743.5h0M613.1 272.3h0M606.6 322.3h0M600.2 372.3h0M593.7 422.3h0M587.2 472.3h0M580.7 522.3h0M574.2 572.3h0M567.7 622.3h0M561.2 672.3h0M554.6 722.3h0M503.1 843.5h0M497.6 893.5h0M492.1 943.5h0M486.5 993.5h0M541.3 822.3h0M535.0 872.3h0M528.7 922.3h0M522.4 972.3h0M642.9 465.3h0M637.9 515.3h0M632.5 565.3h0M626.8 615.3h0M620.8 665.3h0M614.5 715.3h0M608.0 765.3h0M683.9 446.2h0M678.2 496.2h0M672.3 546.2h0M666.2 596.2h0M659.8 646.2h0M653.3 696.2h0M646.5 746.2h0M597.0 865.3h0M590.1 915.3h0M583.2 965.3h0M632.6 846.2h0M626.9 896.2h0M621.1 946.2h0M615.3 996.2h0M1019.0 772.5h0M979.0 847.7h0M972.4 897.7h0M965.9 947.7h0M959.3 997.7h0M1019.0 822.5h0M1012.3 872.5h0M1005.7 922.5h0M999.0 972.5h0" stroke="#3A2604" stroke-width="8" opacity="0.95" stroke-linecap="round" fill="none"/>
<path d="M131.8 29.1h0M125.6 79.1h0M119.5 129.1h0M113.4 179.1h0M166.3 38.8h0M160.2 88.8h0M154.1 138.8h0M147.9 188.8h0M76.6 479.1h0M111.2 488.8h0M226.1 31.8h0M220.3 81.8h0M214.5 131.8h0M208.6 181.8h0M260.2 46.1h0M254.4 96.1h0M248.6 146.1h0M242.7 196.1h0M324.7 39.1h0M318.7 89.1h0M360.8 36.0h0M354.8 86.0h0M287.1 339.1h0M280.6 389.1h0M323.3 336.0h0M316.7 386.0h0M239.0 689.1h0M231.7 739.1h0M224.4 789.1h0M216.9 839.1h0M209.4 889.1h0M201.7 939.1h0M194.0 989.1h0M275.2 686.0h0M267.9 736.0h0M260.5 786.0h0M253.1 836.0h0M245.5 886.0h0M237.9 936.0h0M230.2 986.0h0M335.5 679.0h0M328.3 729.0h0M321.1 779.0h0M313.8 829.0h0M306.4 879.0h0M299.0 929.0h0M291.4 979.0h0M368.9 695.1h0M361.7 745.1h0M354.4 795.1h0M347.1 845.1h0M339.7 895.1h0M332.2 945.1h0M324.7 995.1h0M515.3 38.1h0M509.2 88.1h0M549.5 50.5h0M437.4 638.1h0M430.4 688.1h0M423.3 738.1h0M416.2 788.1h0M408.9 838.1h0M471.4 650.5h0M464.4 700.5h0M457.3 750.5h0M450.1 800.5h0M442.8 850.5h0M386.7 988.1h0M420.5 1000.5h0M597.3 143.5h0M590.6 193.5h0M635.8 122.3h0M629.2 172.3h0M513.2 793.5h0M696.1 65.3h0M690.5 115.3h0M684.8 165.3h0M679.1 215.3h0M673.3 265.3h0M667.4 315.3h0M661.5 365.3h0M655.5 415.3h0M734.1 46.2h0M728.4 96.2h0M722.8 146.2h0M717.1 196.2h0M711.3 246.2h0M705.4 296.2h0M699.6 346.2h0M693.6 396.2h0M605.7 815.3h0M797.3 39.2h0M790.9 89.2h0M784.5 139.2h0M778.1 189.2h0M771.6 239.2h0M765.2 289.2h0M758.8 339.2h0M752.3 389.2h0M745.9 439.2h0M739.4 489.2h0M733.0 539.2h0M726.5 589.2h0M720.0 639.2h0M713.6 689.2h0M707.1 739.2h0M700.6 789.2h0M694.1 839.2h0M687.6 889.2h0M681.1 939.2h0M674.6 989.2h0M834.1 31.4h0M827.6 81.4h0M821.2 131.4h0M814.8 181.4h0M808.4 231.4h0M802.0 281.4h0M795.5 331.4h0M789.1 381.4h0M782.6 431.4h0M776.2 481.4h0M769.7 531.4h0M763.3 581.4h0M756.8 631.4h0M750.3 681.4h0M743.8 731.4h0M737.3 781.4h0M730.9 831.4h0M724.4 881.4h0M717.9 931.4h0M711.4 981.4h0M886.8 74.4h0M880.3 124.4h0M873.9 174.4h0M867.4 224.4h0M861.0 274.4h0M854.6 324.4h0M848.1 374.4h0M841.7 424.4h0M835.3 474.4h0M828.9 524.4h0M822.5 574.4h0M816.1 624.4h0M809.7 674.4h0M803.3 724.4h0M796.9 774.4h0M790.5 824.4h0M784.2 874.4h0M777.8 924.4h0M771.4 974.4h0M926.4 44.0h0M920.0 94.0h0M913.5 144.0h0M907.1 194.0h0M900.7 244.0h0M894.2 294.0h0M887.8 344.0h0M881.4 394.0h0M875.0 444.0h0M868.5 494.0h0M862.1 544.0h0M855.7 594.0h0M849.3 644.0h0M842.9 694.0h0M836.5 744.0h0M830.2 794.0h0M823.8 844.0h0M817.4 894.0h0M811.0 944.0h0M804.7 994.0h0M982.3 37.0h0M976.6 87.0h0M970.8 137.0h0M965.0 187.0h0M959.1 237.0h0M953.1 287.0h0M947.1 337.0h0M941.1 387.0h0M934.9 437.0h0M928.8 487.0h0M922.5 537.0h0M916.2 587.0h0M909.9 637.0h0M903.5 687.0h0M897.0 737.0h0M890.5 787.0h0M883.9 837.0h0M877.3 887.0h0M870.6 937.0h0M863.8 987.0h0M1016.0 54.7h0M1010.3 104.7h0M1004.5 154.7h0M998.6 204.7h0M992.7 254.7h0M986.8 304.7h0M980.7 354.7h0M974.7 404.7h0M968.5 454.7h0M962.3 504.7h0M956.1 554.7h0M949.7 604.7h0M943.4 654.7h0M936.9 704.7h0M930.5 754.7h0M923.9 804.7h0M917.3 854.7h0M910.6 904.7h0M903.9 954.7h0M1013.3 647.7h0M1006.7 697.7h0M1000.1 747.7h0M1052.3 622.5h0M1045.7 672.5h0M1039.1 722.5h0" stroke="#1F3006" stroke-width="7.5" opacity="0.7" stroke-linecap="round" fill="none"/>
</g>
<rect x="42.2" y="41.4" width="952.0" height="3.2" fill="#fff" opacity="0.32"/>
<rect x="42.2" y="41.4" width="3.6" height="943.0" fill="#D0C8B8" opacity="0.5"/>
<rect x="991.7" y="41.4" width="2.5" height="943.0" fill="#9A9488" opacity="0.35"/>
</g>
<rect x="1228.6" y="82.6" width="1026.1" height="746.8" fill="#fff" stroke="#262626" stroke-width="1.15"/>
<path d="M1430.3 829.4v-11M1430.3 82.6v11M1636.4 829.4v-11M1636.4 82.6v11M1842.6 829.4v-11M1842.6 82.6v11M2048.7 829.4v-11M2048.7 82.6v11M1228.6 704.7h11M2254.7 704.7h-11M1228.6 580.3h11M2254.7 580.3h-11M1228.6 455.8h11M2254.7 455.8h-11M1228.6 331.4h11M2254.7 331.4h-11M1228.6 206.9h11M2254.7 206.9h-11" stroke="#262626" stroke-width="1.15" fill="none"/>
<path d="M1228.4 755.2L1229.5 754.6L1231.0 753.9L1232.7 753.1L1234.4 752.2L1235.9 751.2L1237.0 750.3L1237.9 749.3L1238.7 748.2L1239.6 747.0L1240.6 745.6L1241.8 743.9L1243.1 741.9L1244.5 739.8L1245.8 737.8L1247.0 736.1L1248.0 734.9L1248.9 734.0L1249.8 733.2L1250.7 732.3L1251.7 731.4L1252.9 730.3L1254.2 729.2L1255.6 728.0L1256.9 726.6L1258.1 725.0L1259.1 723.1L1260.0 721.0L1260.9 718.7L1261.8 716.3L1262.8 713.9L1264.0 711.5L1265.3 708.8L1266.7 706.3L1268.0 703.9L1269.2 702.0L1270.2 700.7L1271.1 699.8L1272.0 699.2L1272.9 698.7L1273.9 698.1L1275.0 697.4L1276.1 696.9L1277.2 696.4L1278.4 695.7L1279.5 694.9L1280.6 693.9L1281.8 692.8L1283.0 691.5L1284.0 690.1L1285.0 688.5L1285.8 686.9L1286.4 685.3L1286.9 683.4L1287.6 681.2L1288.5 678.6L1289.9 675.4L1291.4 671.6L1293.1 667.5L1294.8 663.4L1296.5 659.6L1298.1 655.9L1299.7 652.3L1301.4 648.8L1302.9 645.4L1304.4 642.1L1305.8 639.1L1307.1 636.2L1308.3 633.4L1309.5 630.7L1310.8 627.9L1312.0 625.0L1313.3 622.1L1314.6 619.2L1315.8 616.3L1317.1 613.6L1318.4 610.9L1319.6 608.3L1320.9 605.8L1322.2 603.3L1323.4 600.9L1324.7 598.6L1325.8 596.3L1327.0 594.2L1328.3 592.0L1329.8 589.8L1331.5 587.6L1333.4 585.3L1335.3 583.1L1337.3 580.9L1339.3 578.7L1341.2 576.5L1343.1 574.3L1345.0 572.1L1346.9 569.9L1348.8 567.6L1350.8 565.2L1352.9 562.6L1354.9 560.1L1356.7 557.7L1358.3 555.7L1359.6 554.1L1360.6 552.9L1361.5 551.8L1362.3 550.7L1363.1 549.3L1363.9 547.8L1364.7 546.1L1365.5 544.4L1366.3 542.6L1367.1 540.6L1367.9 538.6L1368.7 536.5L1369.5 534.3L1370.3 532.0L1371.0 529.5L1371.6 526.8L1372.0 523.9L1372.4 520.9L1373.0 517.8L1373.8 514.6L1375.0 511.3L1376.4 508.0L1377.9 504.5L1379.6 501.1L1381.2 497.7L1383.1 494.2L1385.1 490.7L1387.1 487.2L1389.0 483.9L1390.8 480.7L1392.1 478.1L1393.2 475.7L1394.3 473.5L1395.5 471.0L1397.1 468.1L1399.2 464.5L1401.6 460.5L1404.3 456.4L1407.0 452.1L1409.8 448.0L1412.6 443.9L1415.6 439.8L1418.6 435.7L1421.6 431.7L1424.6 427.9L1427.6 424.3L1430.5 420.9L1433.5 417.6L1436.4 414.3L1439.4 410.9L1442.4 407.4L1445.4 403.7L1448.4 400.0L1451.4 396.4L1454.2 393.0L1456.9 389.8L1459.5 386.7L1462.1 383.8L1464.5 380.9L1466.9 378.2L1469.2 375.5L1471.4 372.8L1473.6 370.3L1475.6 367.8L1477.5 365.5L1479.2 363.2L1480.9 361.0L1482.4 358.9L1483.7 356.8L1484.9 354.9L1485.6 353.2L1486.0 351.7L1486.3 350.3L1486.9 348.6L1488.1 346.4L1490.3 343.3L1493.4 339.4L1496.7 335.5L1499.4 332.2L1500.7 330.6L1500.1 331.3L1497.9 334.0L1495.2 337.2L1493.2 339.7L1492.9 340.0L1494.7 337.6L1498.0 333.3L1502.1 328.1L1506.2 323.0L1509.5 318.7L1512.2 315.6L1514.6 312.8L1516.7 310.4L1518.7 308.1L1520.6 305.8L1522.3 303.6L1523.7 301.6L1525.0 299.7L1526.4 297.7L1528.0 295.6L1530.0 293.4L1532.2 291.3L1534.5 289.0L1536.9 286.4L1539.1 283.6L1541.4 280.2L1543.8 276.2L1546.1 272.1L1548.3 268.3L1550.2 265.1L1551.9 262.7L1553.2 260.8L1554.5 259.2L1555.9 257.7L1557.6 255.8L1559.9 253.8L1562.4 251.7L1565.2 249.5L1567.9 247.2L1570.6 244.7L1573.2 242.2L1575.7 239.5L1578.2 236.7L1580.8 233.8L1583.6 230.9L1586.5 227.6L1589.6 224.0L1592.7 220.4L1595.7 217.0L1598.4 214.2L1600.6 211.9L1602.6 210.0L1604.4 208.4L1606.1 207.0L1607.6 205.9L1608.9 205.0L1610.0 204.6L1611.0 204.3L1612.0 203.9L1613.2 203.1L1614.5 201.9L1616.0 200.3L1617.5 198.6L1619.1 197.0L1620.6 195.7L1622.2 194.6L1623.9 193.6L1625.5 192.7L1627.0 192.0L1628.0 191.4" fill="none" stroke="#EDB120" stroke-width="4.8" stroke-linejoin="round" stroke-linecap="butt"/>
<path d="M1681.7 210.4L1682.5 210.0L1683.6 209.4L1684.8 208.7L1686.2 208.0L1687.5 207.2L1688.8 206.4L1690.1 205.6L1691.5 204.8L1692.8 203.9L1693.8 203.0L1694.6 202.1L1695.1 201.1L1695.5 200.1L1696.1 199.0L1697.0 197.7L1698.3 196.2L1699.9 194.4L1701.7 192.6L1703.6 190.7L1705.5 188.7L1707.3 186.7L1709.1 184.5L1711.0 182.3L1713.0 180.2L1715.0 178.1L1717.1 176.2L1719.3 174.2L1721.5 172.3L1723.6 170.6L1725.5 169.2L1727.2 168.1L1728.7 167.4L1730.1 166.9L1731.5 166.3L1732.9 165.5L1734.4 164.3L1735.9 163.0L1737.4 161.7L1738.9 160.3L1740.3 159.1L1741.8 158.0L1743.3 156.9L1744.8 155.9L1746.3 155.0L1747.7 154.0L1749.2 153.2L1750.6 152.4L1752.1 151.6L1753.6 150.9L1755.1 150.1L1756.8 149.3L1758.5 148.5L1760.2 147.6L1762.0 146.9L1763.6 146.4L1765.2 146.2L1766.7 146.1L1768.2 146.1L1769.6 146.2L1771.0 146.2L1772.3 146.2L1773.5 146.2L1774.6 146.3L1775.9 146.3L1777.3 146.4L1779.0 146.5L1780.9 146.6L1782.8 146.8L1784.8 147.0L1786.8 147.3L1788.9 147.7L1790.9 148.2L1793.0 148.7L1795.2 149.2L1797.4 149.6L1799.9 149.8L1802.8 149.9L1805.5 149.9L1807.9 149.9L1809.6 149.9" fill="none" stroke="#EDB120" stroke-width="4.8" stroke-linejoin="round" stroke-linecap="butt"/>
<path d="M1892.3 291.6L1893.4 288.5L1895.0 284.1L1896.8 279.1L1898.7 274.0L1900.4 269.3L1901.9 265.0L1903.3 260.8L1904.8 256.7L1906.1 252.7L1907.5 249.0L1908.8 245.6L1910.0 242.3L1911.2 239.3L1912.4 236.5L1913.6 233.8L1914.8 231.4L1916.0 229.1L1917.3 227.1L1918.5 225.3L1919.6 223.7L1920.7 222.3L1921.8 221.2L1922.8 220.4L1923.8 219.6L1924.7 219.0L1925.5 218.7L1926.3 218.6L1927.0 218.6L1927.8 218.6L1928.8 218.2L1929.8 217.5L1931.0 216.7L1932.2 215.7L1933.5 214.6L1934.8 213.6L1936.2 212.5L1937.5 211.4L1939.0 210.3L1940.4 209.1L1941.9 208.1L1943.5 207.1L1945.2 206.0L1947.0 205.0L1948.6 204.1L1950.0 203.4L1951.2 203.0L1952.3 202.7L1953.3 202.5L1954.2 202.3L1955.1 202.0L1956.0 201.5L1956.8 200.9L1957.6 200.3L1958.4 199.8L1959.1 199.4L1959.8 199.2L1960.4 199.0L1960.9 199.0L1961.5 199.1L1962.2 199.4L1962.9 199.7L1963.7 200.0L1964.6 200.5L1965.4 201.2L1966.2 202.4L1967.0 204.1L1967.9 206.2L1968.7 208.6L1969.5 211.1L1970.3 213.6L1971.0 216.0L1971.7 218.5L1972.4 221.0L1973.3 223.5L1974.3 225.7L1975.8 227.7L1977.5 229.6L1979.3 231.3L1981.0 233.1L1982.4 234.8L1983.5 236.5L1984.4 238.1L1985.1 239.8L1985.7 241.7L1986.5 243.9L1987.3 246.8L1988.2 250.1L1989.0 253.5L1989.8 257.0L1990.5 260.2L1991.2 263.1L1991.9 266.0L1992.5 268.7L1993.1 271.2L1993.6 273.3L1994.1 275.2L1994.5 277.1L1994.8 278.5L1995.2 279.2L1995.6 279.0L1996.0 277.5L1996.4 274.8L1996.8 271.5L1997.2 268.2L1997.6 265.2L1998.2 262.6L1998.8 260.0L1999.4 257.4L2000.0 255.1L2000.7 253.1L2001.2 251.3L2001.7 249.8L2002.3 248.4L2002.9 247.4L2003.7 246.6L2004.7 246.1L2005.8 245.8L2007.0 245.8L2008.3 246.1L2009.8 246.6L2011.4 247.4L2013.2 248.6L2015.1 249.9L2017.0 251.3L2018.9 252.7L2020.8 254.0L2022.8 255.3L2024.7 256.6L2026.5 257.9L2028.0 259.1L2029.2 260.2L2030.0 261.2L2030.7 262.1L2031.3 263.1L2032.1 264.2L2032.9 265.5L2033.6 267.0L2034.4 268.6L2035.2 270.0L2036.1 271.3L2037.2 272.2L2038.4 272.9L2039.7 273.6L2041.0 274.3L2042.2 275.3L2043.4 276.7L2044.7 278.3L2045.9 280.0L2047.1 281.8L2048.3 283.5L2049.3 285.1L2050.3 286.9L2051.2 288.6L2052.2 290.2L2053.3 291.6L2054.7 292.5L2056.1 293.2L2057.6 293.8L2059.1 294.4L2060.4 295.2L2061.5 296.2L2062.5 297.3L2063.4 298.5L2064.4 299.6L2065.5 300.7L2066.8 301.7L2068.3 302.7L2069.8 303.7L2071.3 304.6L2072.6 305.3L2073.7 305.8L2074.6 306.0L2075.5 306.2L2076.3 306.7L2077.1 307.8L2077.8 309.6L2078.5 312.0L2079.2 314.7L2079.9 317.4L2080.7 319.9L2081.6 322.2L2082.7 324.4L2083.7 326.5L2084.8 328.7L2085.8 331.1L2086.6 333.6L2087.5 336.3L2088.2 339.0L2089.0 341.7L2089.8 344.2L2090.6 346.6L2091.3 348.9L2092.0 351.2L2092.9 353.3L2093.9 355.4L2095.1 357.3L2096.6 359.2L2098.1 361.0L2099.6 362.8L2101.0 364.5L2102.0 366.2L2102.9 367.8L2103.8 369.4L2104.8 371.0L2106.0 372.6L2107.7 374.4L2109.8 376.4L2112.0 378.3L2113.8 379.9L2115.1 381.1" fill="none" stroke="#EDB120" stroke-width="4.8" stroke-linejoin="round" stroke-linecap="butt"/>
<path d="M1228.4 816.2L1234.1 816.1L1242.4 815.9L1251.7 815.6L1260.6 815.3L1267.6 815.1L1272.4 815.0L1276.0 814.8L1278.8 814.7L1281.2 814.5L1283.4 814.2L1285.6 813.7L1287.4 813.2L1288.9 812.5L1290.2 811.7L1291.4 810.7L1292.4 809.5L1293.3 808.3L1294.0 806.8L1294.7 805.0L1295.3 802.7L1296.0 799.8L1296.7 796.1L1297.3 792.3L1297.9 788.5L1298.5 785.3L1299.0 782.6L1299.4 780.1L1299.8 777.9L1300.3 776.0L1300.9 774.2L1301.7 772.7L1302.6 771.6L1303.6 770.7L1304.6 769.7L1305.6 768.6L1306.7 767.2L1307.9 765.6L1309.1 764.0L1310.2 762.8L1311.2 762.3L1312.1 762.6L1312.9 763.4L1313.6 764.7L1314.3 766.2L1315.2 767.9L1316.0 769.7L1316.9 771.9L1317.9 774.3L1318.9 776.7L1319.9 779.0L1321.1 781.2L1322.4 783.4L1323.8 785.6L1325.1 787.6L1326.3 789.3L1327.3 790.4L1328.3 791.2L1329.2 791.8L1330.1 792.4L1331.0 793.2L1332.0 794.4L1332.9 795.8L1333.9 797.2L1334.8 798.5L1335.8 799.6L1336.7 800.3L1337.7 800.9L1338.7 801.3L1339.6 801.7L1340.5 802.0L1341.4 802.1L1342.1 802.0L1342.8 801.9L1343.6 802.0L1344.5 802.4L1345.5 803.2L1346.6 804.4L1347.7 805.7L1348.9 807.0L1350.1 808.3L1351.3 809.6L1352.6 811.0L1353.9 812.5L1355.2 813.7L1356.4 814.6L1357.5 815.3L1358.4 815.6L1359.3 815.8L1360.2 815.9L1361.2 815.7L1362.1 815.5L1363.1 815.2L1364.1 814.6L1365.1 813.9L1365.9 813.1L1366.7 812.1L1367.3 811.1L1368.0 809.8L1368.5 808.2L1369.1 805.9L1369.6 803.2L1370.1 800.1L1370.6 796.6L1371.0 792.2L1371.5 786.9L1371.9 780.4L1372.4 772.9L1372.9 764.7L1373.4 756.0L1373.8 747.2L1374.3 737.9L1374.8 727.9L1375.3 717.7L1375.8 708.1L1376.2 699.7L1376.5 694.6L1376.7 692.6L1376.9 690.1L1377.3 684.0L1378.2 670.7L1379.8 645.6L1382.0 610.9L1384.3 573.7L1386.4 541.0L1387.7 520.0L1387.9 514.1L1387.4 518.5L1386.6 528.1L1385.8 537.7L1385.5 542.1L1385.6 540.6L1386.0 536.7L1386.5 531.5L1387.1 525.9L1387.6 520.9L1388.0 516.6L1388.4 512.2L1388.9 507.8L1389.3 503.6L1389.7 499.8L1390.1 496.2L1390.4 492.8L1390.7 489.7L1391.2 487.0L1391.8 485.0L1392.7 483.7L1393.7 483.1L1394.8 483.0L1396.0 482.8L1397.1 482.4L1398.0 481.7L1398.7 480.8L1399.5 479.9L1400.7 479.1L1402.4 478.6L1404.9 478.5L1408.0 478.5L1411.5 478.7L1415.0 478.9L1418.3 479.1L1421.4 479.1L1424.5 479.1L1427.5 479.1L1430.4 479.1L1433.1 479.1L1435.5 479.0L1437.7 478.8L1439.8 478.7L1441.8 478.6L1443.6 478.6L1445.4 478.7L1447.0 478.9L1448.5 479.1L1449.8 479.3L1451.0 479.7L1452.0 480.2L1452.7 480.8L1453.4 481.4L1454.1 482.0L1455.3 482.4L1456.9 482.6L1458.8 482.6L1460.9 482.5L1462.9 482.5L1464.8 482.9L1466.4 483.5L1467.9 484.4L1469.3 485.5L1470.7 486.5L1472.2 487.5L1473.7 488.5L1475.1 489.4L1476.6 490.4L1478.0 491.2L1479.6 491.7L1481.2 492.1L1482.7 492.2L1484.3 492.2L1486.1 492.0L1488.1 491.7L1490.4 491.3L1492.9 490.7L1495.6 490.0L1498.3 489.2L1500.7 488.6L1503.0 487.9L1505.2 487.3L1507.3 486.6L1509.4 486.1L1511.3 485.6L1513.1 485.2L1514.8 485.0L1516.3 484.7L1518.0 484.6L1519.8 484.6L1521.8 484.6L1524.0 484.7L1526.2 484.8L1528.3 485.1L1530.4 485.4L1532.2 485.8L1533.9 486.3L1535.6 486.8L1537.2 487.4L1538.8 488.1L1540.4 489.0L1542.0 490.0L1543.5 491.1L1544.9 492.1L1546.2 493.0L1547.4 493.8L1548.5 494.4L1549.6 495.0L1550.5 495.7L1551.5 496.6L1552.4 497.7L1553.3 499.0L1554.2 500.4L1555.0 501.7L1555.7 503.0L1556.4 504.1L1557.0 505.2L1557.5 506.3L1558.2 507.3L1558.9 508.2L1559.8 509.1L1560.7 509.9L1561.8 510.6L1562.9 511.2L1564.2 511.8L1565.7 512.4L1567.5 512.9L1569.3 513.4L1571.0 513.8L1572.7 514.2L1574.0 514.5L1575.2 514.7L1576.4 514.9L1577.6 515.0L1579.0 515.0L1580.5 514.9L1582.1 514.6L1583.8 514.3L1585.6 513.9L1587.5 513.5L1589.5 513.1L1591.6 512.6L1593.9 512.0L1596.0 511.5L1598.0 511.2L1599.9 511.0L1601.6 510.9L1603.2 510.9L1604.8 510.9L1606.5 511.0L1608.2 511.1L1610.0 511.1L1611.7 511.3L1613.4 511.6L1615.0 512.0L1616.4 512.8L1617.7 513.7L1619.0 514.7L1620.2 515.7L1621.3 516.7L1622.3 517.6L1623.2 518.4L1624.0 519.2L1624.8 520.1L1625.5 520.9L1626.2 521.9L1626.9 523.0L1627.5 524.0L1627.9 524.9L1628.3 525.6" fill="none" stroke="#993300" stroke-width="4.8" stroke-linejoin="round" stroke-linecap="butt"/>
<path d="M1682.2 733.5L1683.1 733.2L1684.3 732.7L1685.8 732.1L1687.2 731.3L1688.5 730.4L1689.6 729.3L1690.7 728.2L1691.7 726.8L1692.7 725.1L1693.8 723.0L1695.0 720.2L1696.3 717.0L1697.6 713.4L1698.9 709.7L1700.2 706.0L1701.4 702.4L1702.6 698.7L1703.8 694.9L1705.1 691.0L1706.5 687.0L1708.1 682.9L1709.7 678.6L1711.5 674.3L1713.2 670.0L1715.0 665.9L1716.7 661.9L1718.4 657.9L1720.0 654.1L1721.7 650.4L1723.4 646.8L1725.1 643.6L1726.8 640.5L1728.4 637.5L1730.1 634.7L1731.9 632.1L1733.7 629.5L1735.6 627.1L1737.5 624.8L1739.5 622.6L1741.4 620.4L1743.3 618.3L1745.3 616.3L1747.2 614.3L1749.1 612.5L1750.9 610.9L1752.7 609.5L1754.4 608.4L1756.0 607.3L1757.7 606.4L1759.4 605.6L1761.1 604.9L1762.8 604.3L1764.6 603.8L1766.3 603.4L1767.8 603.1L1769.2 602.9L1770.4 602.9L1771.6 603.0L1772.8 603.2L1774.2 603.5L1775.7 604.0L1777.4 604.6L1779.1 605.3L1780.9 606.2L1782.6 607.1L1784.3 608.1L1786.0 609.3L1787.7 610.5L1789.4 611.8L1791.1 613.0L1792.8 614.3L1794.6 615.5L1796.3 616.8L1798.0 618.1L1799.5 619.4L1801.0 620.7L1802.3 622.0L1803.6 623.4L1804.8 624.6L1805.9 625.7L1806.9 626.7L1807.9 627.6L1808.8 628.4L1809.6 629.0L1810.1 629.5" fill="none" stroke="#993300" stroke-width="4.8" stroke-linejoin="round" stroke-linecap="butt"/>
<path d="M1892.6 806.2L1893.3 805.8L1894.2 805.3L1895.4 804.6L1896.7 803.7L1898.2 802.7L1899.9 801.3L1901.8 799.7L1903.9 798.0L1906.0 796.1L1908.1 794.2L1910.1 792.2L1912.1 790.1L1914.1 788.0L1916.1 785.8L1917.9 783.6L1919.8 781.5L1921.6 779.2L1923.3 777.0L1924.9 774.9L1926.4 773.0L1927.7 771.5L1928.9 770.2L1929.9 769.0L1931.0 767.6L1932.0 766.0L1933.1 764.0L1934.1 761.9L1935.1 759.5L1936.3 757.1L1937.7 754.7L1939.4 752.2L1941.3 749.6L1943.4 747.0L1945.5 744.4L1947.5 742.0L1949.5 739.9L1951.5 737.8L1953.5 735.9L1955.4 734.0L1957.4 732.2L1959.4 730.3L1961.4 728.5L1963.3 726.8L1965.3 725.1L1967.3 723.7L1969.3 722.5L1971.2 721.4L1973.2 720.5L1975.2 719.7L1977.1 718.8L1979.2 717.8L1981.2 716.9L1983.3 716.0L1985.2 715.2L1987.0 714.5L1988.6 714.0L1990.0 713.7L1991.4 713.4L1992.7 713.3L1994.1 713.1L1995.5 713.1L1997.0 713.1L1998.4 713.2L1999.8 713.3L2001.1 713.6L2002.3 713.9L2003.5 714.2L2004.6 714.7L2005.6 715.3L2006.8 716.0L2007.8 716.7L2008.9 717.6L2009.9 718.6L2011.1 719.7L2012.4 720.9L2013.9 722.3L2015.6 723.8L2017.3 725.4L2019.1 727.0L2020.9 728.6L2022.5 730.2L2024.2 731.7L2025.9 733.3L2027.6 734.8L2029.3 736.4L2031.0 738.0L2032.7 739.6L2034.4 741.1L2036.1 742.7L2037.8 744.1L2039.5 745.5L2041.2 746.7L2042.8 747.9L2044.5 749.1L2046.2 750.5L2047.9 752.1L2049.5 753.8L2051.2 755.5L2052.9 757.3L2054.7 759.0L2056.6 760.5L2058.5 762.0L2060.5 763.5L2062.6 765.1L2064.6 766.7L2066.5 768.4L2068.5 770.3L2070.5 772.1L2072.5 774.0L2074.4 775.9L2076.4 777.7L2078.4 779.5L2080.4 781.3L2082.4 783.2L2084.3 785.0L2086.1 787.0L2087.8 789.1L2089.5 791.2L2091.2 793.2L2092.8 794.9L2094.2 796.3L2095.6 797.5L2097.0 798.6L2098.3 799.6L2099.8 800.5L2101.4 801.5L2103.2 802.4L2105.0 803.3L2106.7 804.1L2108.3 804.8L2109.8 805.4L2111.3 805.9L2112.6 806.3L2113.8 806.6L2114.6 806.9" fill="none" stroke="#993300" stroke-width="4.8" stroke-linejoin="round" stroke-linecap="butt"/>
<path d="M1228.4 818.3L1230.7 818.2L1233.9 818.2L1237.7 818.1L1242.1 818.0L1247.0 817.8L1252.8 817.6L1259.8 817.3L1267.0 817.0L1273.5 816.6L1278.7 816.2L1282.1 815.9L1284.4 815.6L1285.9 815.2L1287.0 814.7L1288.2 813.8L1289.3 812.9L1290.2 811.9L1290.8 810.6L1291.5 808.7L1292.2 805.9L1293.0 802.0L1293.8 797.0L1294.7 791.5L1295.4 785.9L1296.1 780.5L1296.7 775.4L1297.1 770.3L1297.5 765.2L1298.0 760.1L1298.5 755.2L1299.2 750.3L1299.9 745.5L1300.8 740.8L1301.6 736.1L1302.5 731.4L1303.4 726.5L1304.4 721.4L1305.4 716.5L1306.3 711.8L1307.2 707.6L1308.0 703.7L1308.7 700.0L1309.4 696.7L1310.1 694.1L1310.9 692.5L1311.7 692.0L1312.5 692.5L1313.4 693.7L1314.3 695.3L1315.2 697.3L1316.1 699.6L1317.0 702.4L1317.9 705.6L1318.9 709.0L1319.9 712.3L1321.1 715.9L1322.4 719.8L1323.8 723.6L1325.1 727.1L1326.3 729.8L1327.3 731.4L1328.3 732.2L1329.2 732.7L1330.1 733.3L1331.0 734.5L1331.9 736.7L1332.8 739.4L1333.6 742.3L1334.6 745.0L1335.8 747.2L1337.2 748.7L1338.9 749.8L1340.6 750.7L1342.3 751.6L1343.7 752.8L1344.8 754.2L1345.8 755.6L1346.6 757.2L1347.5 759.2L1348.5 761.5L1349.7 764.6L1351.0 768.2L1352.3 772.1L1353.6 775.8L1354.8 779.0L1355.9 781.6L1356.9 784.0L1357.9 786.1L1358.8 787.9L1359.6 789.3L1360.2 790.2L1360.7 790.7L1361.1 790.9L1361.5 790.9L1362.0 790.8L1362.5 790.9L1363.2 790.9L1363.9 790.7L1364.5 790.0L1365.1 788.5L1365.7 786.2L1366.2 783.3L1366.6 779.8L1367.1 775.7L1367.5 771.0L1367.9 765.8L1368.2 759.9L1368.5 753.5L1368.8 746.6L1369.1 739.3L1369.4 731.2L1369.7 722.2L1370.0 712.9L1370.3 704.1L1370.7 696.5L1371.0 692.2L1371.4 690.9L1371.8 689.2L1372.3 683.6L1372.9 670.7L1373.8 647.3L1374.9 615.7L1376.1 580.7L1377.2 547.2L1378.2 520.0L1378.8 500.3L1379.3 484.7L1379.7 471.7L1380.1 459.7L1380.6 446.9L1381.1 433.3L1381.7 419.9L1382.3 406.9L1382.8 394.7L1383.4 383.5L1383.8 373.3L1384.3 364.2L1384.8 355.8L1385.2 347.8L1385.6 340.0L1385.9 332.5L1386.2 325.4L1386.4 318.6L1386.7 312.1L1387.0 305.8L1387.4 299.8L1387.8 294.1L1388.3 288.7L1388.8 283.4L1389.3 278.0L1389.8 272.4L1390.4 266.6L1391.0 261.0L1391.5 256.0L1392.0 252.1L1392.4 249.8L1392.6 248.8L1392.8 248.2L1393.2 247.5L1393.9 245.7L1394.9 242.4L1396.2 238.3L1397.6 233.9L1399.0 229.7L1400.4 226.2L1401.4 223.8L1402.4 222.0L1403.3 220.5L1404.5 219.0L1405.9 217.0L1407.8 214.4L1410.0 211.5L1412.4 208.6L1414.8 205.7L1417.0 203.1L1419.0 200.9L1420.9 199.0L1422.7 197.2L1424.5 195.4L1426.3 193.5L1428.0 191.3L1429.7 189.1L1431.3 186.8L1432.9 184.6L1434.6 182.6L1436.3 180.5L1438.0 178.6L1439.7 176.7L1441.4 175.0L1442.9 173.5L1444.3 172.3L1445.6 171.3L1446.9 170.4L1448.1 169.8L1449.4 169.2L1450.7 168.8L1451.9 168.6L1453.2 168.6L1454.5 168.5L1455.9 168.5L1457.3 168.3L1458.7 168.0L1460.2 167.8L1461.7 167.9L1463.3 168.5L1465.0 169.6L1466.8 171.2L1468.6 173.1L1470.2 175.1L1471.6 177.2L1472.6 179.4L1473.4 181.8L1474.0 184.2L1474.6 186.8L1475.3 189.2L1476.0 191.7L1476.7 194.4L1477.5 196.9L1478.2 199.3L1479.0 201.2L1479.9 202.8L1480.8 203.9L1481.8 204.9L1482.7 205.6L1483.6 206.2L1484.4 206.8L1485.1 207.2L1485.8 207.5L1486.5 207.5L1487.3 207.4L1488.3 206.9L1489.4 206.3L1490.6 205.5L1491.7 204.4L1492.9 203.1L1493.9 201.6L1494.9 199.8L1495.9 197.9L1497.1 195.6L1498.4 192.9L1500.1 189.7L1502.0 185.8L1503.9 181.8L1505.9 177.9L1507.7 174.4L1509.3 171.4L1510.8 168.6L1512.2 166.0L1513.6 163.6L1515.1 161.5L1516.6 159.5L1518.0 157.8L1519.5 156.3L1521.0 155.1L1522.5 154.1L1524.0 153.3L1525.6 152.9L1527.1 152.7L1528.6 152.6L1529.9 152.6L1530.9 152.5L1531.8 152.6L1532.6 152.7L1533.5 153.1L1534.5 153.7L1535.8 154.6L1537.4 155.8L1539.0 157.1L1540.5 158.7L1541.9 160.5L1543.2 162.6L1544.4 165.0L1545.5 167.6L1546.5 170.1L1547.5 172.6L1548.3 174.6L1549.1 176.4L1549.8 178.3L1550.5 180.6L1551.2 183.7L1551.8 187.6L1552.3 192.3L1552.9 197.3L1553.4 202.6L1553.9 207.7L1554.5 212.9L1555.1 218.2L1555.6 223.6L1556.2 228.8L1556.7 233.6L1557.2 238.1L1557.7 242.3L1558.1 246.4L1558.6 250.2L1559.1 254.0L1559.7 257.7L1560.3 261.3L1560.9 264.7L1561.5 267.8L1562.3 270.6L1563.1 273.0L1563.9 274.9L1564.8 276.6L1565.8 278.2L1566.9 279.9L1568.1 281.7L1569.4 283.6L1570.8 285.4L1572.1 287.0L1573.4 288.2L1574.6 289.1L1575.8 289.6L1576.9 289.9L1577.9 290.0L1578.9 290.1L1579.7 290.1L1580.4 290.0L1581.0 289.8L1581.7 289.2L1582.6 288.2L1583.7 286.6L1585.0 284.4L1586.3 282.0L1587.7 279.5L1589.1 277.1L1590.6 274.8L1592.1 272.5L1593.6 270.1L1595.1 267.9L1596.5 266.0L1597.7 264.4L1598.8 262.9L1599.9 261.6L1601.0 260.5L1602.1 259.5L1603.2 258.7L1604.4 258.1L1605.6 257.6L1606.8 257.3L1608.0 257.3L1609.2 257.5L1610.5 257.9L1611.7 258.6L1613.0 259.4L1614.1 260.5L1615.1 261.7L1616.0 263.1L1616.9 264.7L1617.8 266.6L1618.7 268.8L1619.7 271.3L1620.7 274.2L1621.6 277.4L1622.5 280.5L1623.3 283.6L1624.0 286.5L1624.6 289.4L1625.1 292.4L1625.6 295.4L1626.1 298.4L1626.7 301.8L1627.2 305.5L1627.7 309.2L1628.2 312.3L1628.5 314.5" fill="none" stroke="#008000" stroke-width="4.8" stroke-linejoin="round" stroke-linecap="butt"/>
<path d="M1682.2 726.1L1683.1 725.6L1684.3 725.0L1685.8 724.2L1687.2 723.2L1688.5 721.9L1689.7 720.4L1690.7 718.7L1691.8 716.8L1692.8 714.7L1693.8 712.4L1694.8 709.9L1695.8 707.4L1696.8 704.5L1697.9 701.3L1699.1 697.6L1700.4 693.2L1701.9 688.3L1703.4 683.0L1704.9 677.6L1706.5 672.2L1708.1 666.9L1709.8 661.4L1711.5 655.8L1713.3 650.3L1715.0 644.7L1716.6 639.2L1718.3 633.6L1720.0 628.1L1721.7 622.6L1723.4 617.3L1725.3 612.0L1727.2 606.7L1729.1 601.5L1731.0 596.6L1732.9 591.9L1734.9 587.4L1736.8 583.2L1738.7 579.1L1740.6 575.3L1742.5 571.8L1744.2 568.5L1746.0 565.5L1747.7 562.8L1749.3 560.3L1750.9 558.1L1752.5 556.1L1753.9 554.4L1755.4 553.0L1756.8 551.8L1758.3 550.7L1759.8 549.7L1761.4 549.0L1763.0 548.4L1764.4 547.9L1765.7 547.5L1766.7 547.2L1767.6 547.0L1768.3 546.9L1769.1 546.9L1769.9 547.1L1770.9 547.3L1771.9 547.6L1772.9 548.1L1774.0 548.7L1775.2 549.6L1776.5 550.7L1778.0 551.9L1779.5 553.3L1781.0 555.0L1782.6 557.0L1784.2 559.4L1785.9 562.1L1787.6 565.1L1789.4 568.0L1791.1 570.7L1792.8 573.3L1794.6 575.7L1796.4 578.0L1798.0 580.3L1799.5 582.4L1800.8 584.3L1801.9 586.0L1802.9 587.6L1803.8 589.2L1804.8 590.8L1805.9 592.7L1807.0 594.6L1808.1 596.5L1809.0 598.1L1809.7 599.3" fill="none" stroke="#008000" stroke-width="4.8" stroke-linejoin="round" stroke-linecap="butt"/>
<path d="M1892.6 797.7L1893.9 796.9L1895.8 795.8L1898.0 794.5L1900.3 793.0L1902.4 791.4L1904.4 789.7L1906.3 787.8L1908.2 785.8L1910.2 783.7L1912.3 781.5L1914.5 779.1L1916.9 776.5L1919.3 773.9L1921.6 771.5L1923.6 769.5L1925.2 768.2L1926.6 767.4L1927.8 766.8L1929.1 766.0L1930.6 764.6L1932.4 762.5L1934.4 759.9L1936.4 757.1L1938.5 754.3L1940.5 751.9L1942.4 749.9L1944.4 748.0L1946.3 746.3L1948.3 744.6L1950.4 742.7L1952.5 740.8L1954.8 738.7L1957.2 736.6L1959.5 734.6L1961.6 732.9L1963.7 731.4L1965.6 730.0L1967.5 728.8L1969.5 727.7L1971.5 726.5L1973.7 725.3L1976.1 724.1L1978.5 722.9L1980.8 721.8L1982.8 720.9L1984.5 720.1L1986.0 719.5L1987.3 718.9L1988.6 718.5L1989.8 718.1L1991.1 717.7L1992.3 717.4L1993.4 717.2L1994.5 717.0L1995.5 716.9L1996.4 716.9L1997.3 716.9L1998.1 716.9L1998.9 717.1L1999.7 717.4L2000.5 717.7L2001.3 718.2L2002.1 718.8L2003.0 719.4L2003.9 720.2L2005.0 721.0L2006.1 721.9L2007.3 722.9L2008.4 724.0L2009.6 725.1L2010.7 726.4L2011.7 727.7L2012.8 729.1L2013.9 730.6L2015.2 732.2L2016.7 733.9L2018.4 735.7L2020.2 737.7L2021.9 739.6L2023.7 741.3L2025.4 743.0L2027.1 744.7L2028.7 746.3L2030.4 747.7L2032.1 749.1L2033.8 750.2L2035.4 751.1L2037.1 751.9L2038.8 752.8L2040.6 754.0L2042.5 755.6L2044.4 757.4L2046.3 759.4L2048.4 761.4L2050.5 763.2L2052.6 764.8L2054.9 766.3L2057.2 767.8L2059.5 769.3L2061.7 770.9L2064.0 772.7L2066.2 774.5L2068.5 776.4L2070.8 778.3L2073.0 780.1L2075.3 781.9L2077.6 783.6L2079.9 785.3L2082.1 787.0L2084.3 788.6L2086.4 790.1L2088.4 791.6L2090.4 793.1L2092.3 794.4L2094.2 795.6L2096.0 796.7L2097.7 797.6L2099.4 798.4L2101.0 799.1L2102.6 799.8L2104.1 800.5L2105.6 801.1L2107.0 801.7L2108.4 802.2L2109.7 802.7L2111.0 803.0L2112.3 803.3L2113.5 803.5L2114.6 803.7L2115.3 803.8" fill="none" stroke="#008000" stroke-width="4.8" stroke-linejoin="round" stroke-linecap="butt"/>
<g font-family="'Liberation Serif', serif" font-size="38" fill="#262626">
<clipPath id="c06"><rect x="1100" y="61" width="140" height="40"/></clipPath>
<text x="1149.6" y="81.7" clip-path="url(#c06)">0.6</text>
<text x="1149.6" y="206.7">0.5</text>
<text x="1149.6" y="331.2">0.4</text>
<text x="1149.6" y="455.6">0.3</text>
<text x="1149.6" y="580.0">0.2</text>
<text x="1149.6" y="703.5">0.1</text>
<text x="1189.6" y="828.0">0</text>
<text x="1405.0" y="871">50</text>
<text x="1598.0" y="871">100</text>
<text x="1804.6" y="871">150</text>
<text x="2010.2" y="871">200</text>
<text x="2216.2" y="871">250</text>
</g>
<text x="1682.6" y="933.7" font-family="'Liberation Serif', serif" font-size="41.5" fill="#262626">Band</text>
<clipPath id="cyl"><rect x="1090" y="300" width="60" height="400"/></clipPath>
<g clip-path="url(#cyl)"><text transform="translate(1115.2 587.3) rotate(-90)" font-family="'Liberation Serif', serif" font-size="41.5" fill="#262626">Reflectance</text></g>
<rect x="2057.2" y="99.6" width="181.6" height="167.8" fill="#fff" stroke="#262626" stroke-width="1.15"/>
<path d="M2066.8 129.1H2120.2" stroke="#EDB120" stroke-width="5" fill="none"/>
<text x="2123.6" y="128.2" font-family="'Liberation Serif', serif" font-size="36" fill="#000">Soil</text>
<path d="M2066.8 183.0H2120.2" stroke="#993300" stroke-width="5" fill="none"/>
<text x="2123.6" y="181.6" font-family="'Liberation Serif', serif" font-size="36" fill="#000">Weed</text>
<path d="M2066.8 237.1H2120.2" stroke="#008000" stroke-width="5" fill="none"/>
<text x="2123.6" y="234.9" font-family="'Liberation Serif', serif" font-size="36" fill="#000">Tree</text>
<g font-family="'Liberation Serif', 'DejaVu Serif', serif" font-size="88" fill="#000">
<text transform="translate(471.2 1080.5) scale(0.89 1)">(</text><text transform="translate(498.0 1080.2) scale(0.97 1)" font-weight="bold">a</text><text transform="translate(540.5 1080.5) scale(0.89 1)">)</text>
<text transform="translate(1640.4 1080.5) scale(0.89 1)">(</text><text transform="translate(1667.0 1080.6) scale(1.03 1)" font-weight="bold">b</text><text transform="translate(1719.3 1080.5) scale(0.89 1)">)</text>
</g>
</svg>
</body>
</html>
